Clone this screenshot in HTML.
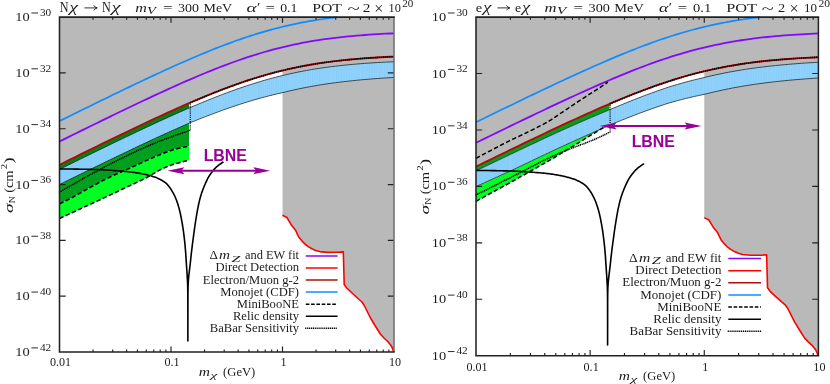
<!DOCTYPE html>
<html><head><meta charset="utf-8"><title>plot</title>
<style>
html,body{margin:0;padding:0;background:#fff;}
svg{display:block;}
text{font-family:"Liberation Serif",serif;fill:#1c1c1c;}
.tk{font-size:12.5px;}
.xt{font-size:13px;}
.xl{font-size:13px;}
.yl{font-size:12.5px;}
.tt{font-size:12.8px;}
.lg{font-size:13px;}
.lbne{font-family:"Liberation Sans",sans-serif;font-weight:bold;font-size:15.9px;fill:#990099;}
</style></head><body>
<svg width="830" height="384" viewBox="0 0 830 384">
<rect width="830" height="384" fill="#fff"/>
<path d="M59.50,17.10 L59.50,164.80 L63.68,162.73 L67.86,160.66 L72.04,158.60 L76.22,156.53 L80.41,154.47 L84.59,152.41 L88.77,150.36 L92.95,148.31 L97.13,146.26 L101.31,144.22 L105.49,142.18 L109.67,140.14 L113.86,138.11 L118.04,136.09 L122.22,134.07 L126.40,132.06 L130.58,130.06 L134.76,128.06 L138.94,126.07 L143.12,124.09 L147.31,122.12 L151.49,120.16 L155.67,118.21 L159.85,116.28 L164.03,114.36 L168.21,112.45 L172.39,110.55 L176.57,108.67 L180.76,106.81 L184.94,104.97 L189.12,103.15 L193.30,101.35 L197.48,99.57 L201.66,97.81 L205.84,96.08 L210.03,94.38 L214.21,92.70 L218.39,91.06 L222.57,89.44 L226.75,87.86 L230.93,86.31 L235.11,84.80 L239.29,83.32 L243.47,81.89 L247.66,80.49 L251.84,79.13 L256.02,77.82 L260.20,76.54 L264.38,75.31 L268.56,74.13 L272.74,72.99 L276.92,71.89 L281.11,70.84 L285.29,69.83 L289.47,68.87 L293.65,67.96 L297.83,67.09 L302.01,66.26 L306.19,65.47 L310.38,64.73 L314.56,64.03 L318.74,63.36 L322.92,62.74 L327.10,62.15 L331.28,61.60 L335.46,61.08 L339.64,60.60 L343.82,60.15 L348.01,59.72 L352.19,59.33 L356.37,58.96 L360.55,58.62 L364.73,58.30 L368.91,58.01 L373.09,57.73 L377.28,57.48 L381.46,57.24 L385.64,57.02 L389.82,56.82 L394.00,56.63 L394.00,17.10Z" fill="#b9b9b9"/>
<path d="M282.50,17.10 L282.50,215.00 L282.40,215.20 L286.90,217.50 L291.60,225.30 L295.50,230.20 L298.70,237.00 L301.60,240.60 L304.90,244.00 L308.20,246.60 L311.90,248.75 L315.70,250.40 L319.75,251.60 L327.60,252.40 L338.00,252.30 L343.30,251.90 L343.60,262.00 L344.20,284.50 L346.75,288.00 L352.00,293.00 L358.00,298.50 L361.75,301.75 L364.00,305.00 L367.00,311.00 L370.50,318.00 L375.00,325.50 L380.50,334.25 L384.00,338.00 L388.00,341.75 L391.00,345.50 L392.60,348.50 L393.40,351.60 L394.00,352.00 L394.00,17.10Z" fill="#b9b9b9"/>
<path d="M59.50,164.80 L62.74,163.20 L65.97,161.60 L69.21,159.99 L72.45,158.40 L75.69,156.80 L78.92,155.20 L82.16,153.61 L85.40,152.01 L88.64,150.42 L91.87,148.84 L95.11,147.25 L98.35,145.66 L101.59,144.08 L104.83,142.50 L108.06,140.93 L111.30,139.35 L114.54,137.78 L117.78,136.22 L121.01,134.65 L124.25,133.09 L127.49,131.54 L130.72,129.99 L133.96,128.44 L137.20,126.90 L140.44,125.36 L143.68,123.83 L146.91,122.31 L150.15,120.79 L153.39,119.28 L156.62,117.77 L159.86,116.27 L163.10,114.78 L166.34,113.30 L169.57,111.83 L172.81,110.36 L176.05,108.91 L179.29,107.47 L182.53,106.03 L185.76,104.61 L189.00,103.20 L189.00,146.20 L188.57,146.28 L188.03,146.38 L187.40,146.50 L186.70,146.63 L185.93,146.77 L185.12,146.93 L184.27,147.09 L183.40,147.26 L182.52,147.44 L181.66,147.62 L180.81,147.81 L180.00,148.00 L179.23,148.19 L178.48,148.37 L177.74,148.54 L177.01,148.72 L176.27,148.91 L175.51,149.11 L174.73,149.32 L173.91,149.56 L173.05,149.82 L172.14,150.11 L171.16,150.43 L170.10,150.80 L168.98,151.20 L167.81,151.63 L166.58,152.09 L165.31,152.57 L164.00,153.07 L162.64,153.61 L161.25,154.16 L159.81,154.74 L158.33,155.35 L156.82,155.98 L155.28,156.63 L153.70,157.30 L152.07,158.01 L150.38,158.75 L148.63,159.54 L146.84,160.35 L145.00,161.19 L143.14,162.04 L141.26,162.91 L139.37,163.78 L137.48,164.65 L135.60,165.52 L133.74,166.37 L131.90,167.20 L130.07,168.02 L128.23,168.83 L126.39,169.64 L124.54,170.45 L122.69,171.25 L120.84,172.06 L119.00,172.87 L117.16,173.69 L115.34,174.50 L113.54,175.33 L111.76,176.16 L110.00,177.00 L108.26,177.85 L106.54,178.71 L104.84,179.58 L103.14,180.45 L101.47,181.33 L99.80,182.21 L98.14,183.09 L96.50,183.97 L94.86,184.86 L93.24,185.74 L91.62,186.62 L90.00,187.50 L88.37,188.39 L86.73,189.30 L85.07,190.24 L83.41,191.17 L81.77,192.11 L80.14,193.04 L78.54,193.96 L76.97,194.85 L75.46,195.71 L74.00,196.52 L72.61,197.29 L71.30,198.00 L70.04,198.67 L68.80,199.31 L67.59,199.92 L66.42,200.50 L65.30,201.04 L64.23,201.56 L63.23,202.03 L62.30,202.47 L61.46,202.87 L60.70,203.22 L60.05,203.53 L59.50,203.80Z" fill="#00a01e"/>
<path d="M59.50,203.80 L60.05,203.53 L60.70,203.22 L61.46,202.87 L62.30,202.47 L63.23,202.03 L64.23,201.56 L65.30,201.04 L66.42,200.50 L67.59,199.92 L68.80,199.31 L70.04,198.67 L71.30,198.00 L72.61,197.29 L74.00,196.52 L75.46,195.71 L76.97,194.85 L78.54,193.96 L80.14,193.04 L81.77,192.11 L83.41,191.17 L85.07,190.24 L86.73,189.30 L88.37,188.39 L90.00,187.50 L91.62,186.62 L93.24,185.74 L94.86,184.86 L96.50,183.97 L98.14,183.09 L99.80,182.21 L101.47,181.33 L103.14,180.45 L104.84,179.58 L106.54,178.71 L108.26,177.85 L110.00,177.00 L111.76,176.16 L113.54,175.33 L115.34,174.50 L117.16,173.69 L119.00,172.87 L120.84,172.06 L122.69,171.25 L124.54,170.45 L126.39,169.64 L128.23,168.83 L130.07,168.02 L131.90,167.20 L133.74,166.37 L135.60,165.52 L137.48,164.65 L139.37,163.78 L141.26,162.91 L143.14,162.04 L145.00,161.19 L146.84,160.35 L148.63,159.54 L150.38,158.75 L152.07,158.01 L153.70,157.30 L155.28,156.63 L156.82,155.98 L158.33,155.35 L159.81,154.74 L161.25,154.16 L162.64,153.61 L164.00,153.07 L165.31,152.57 L166.58,152.09 L167.81,151.63 L168.98,151.20 L170.10,150.80 L171.16,150.43 L172.14,150.11 L173.05,149.82 L173.91,149.56 L174.73,149.32 L175.51,149.11 L176.27,148.91 L177.01,148.72 L177.74,148.54 L178.48,148.37 L179.23,148.19 L180.00,148.00 L180.81,147.81 L181.66,147.62 L182.52,147.44 L183.40,147.26 L184.27,147.09 L185.12,146.93 L185.93,146.77 L186.70,146.63 L187.40,146.50 L188.03,146.38 L188.57,146.28 L189.00,146.20 L189.00,160.20 L188.63,160.29 L188.18,160.40 L187.65,160.53 L187.07,160.67 L186.43,160.83 L185.74,160.99 L185.01,161.17 L184.26,161.36 L183.48,161.56 L182.69,161.77 L181.89,161.98 L181.10,162.20 L180.29,162.42 L179.44,162.66 L178.57,162.90 L177.66,163.14 L176.73,163.40 L175.79,163.67 L174.83,163.95 L173.87,164.23 L172.92,164.53 L171.96,164.84 L171.02,165.16 L170.10,165.50 L169.20,165.84 L168.30,166.19 L167.42,166.55 L166.54,166.92 L165.66,167.30 L164.78,167.69 L163.89,168.09 L162.99,168.51 L162.08,168.95 L161.14,169.41 L160.19,169.90 L159.20,170.40 L158.19,170.93 L157.18,171.50 L156.15,172.09 L155.11,172.70 L154.05,173.33 L152.97,173.98 L151.88,174.63 L150.77,175.29 L149.64,175.95 L148.48,176.61 L147.30,177.26 L146.10,177.90 L144.90,178.52 L143.71,179.12 L142.52,179.70 L141.33,180.28 L140.11,180.86 L138.86,181.45 L137.57,182.06 L136.22,182.69 L134.80,183.35 L133.30,184.05 L131.70,184.80 L130.00,185.60 L128.23,186.44 L126.44,187.29 L124.61,188.16 L122.72,189.05 L120.76,189.98 L118.72,190.94 L116.58,191.95 L114.33,193.01 L111.95,194.13 L109.42,195.32 L106.75,196.57 L103.90,197.90 L100.70,199.39 L97.05,201.09 L93.05,202.95 L88.81,204.91 L84.45,206.94 L80.07,208.97 L75.78,210.96 L71.69,212.85 L67.91,214.60 L64.54,216.16 L61.70,217.48 L59.50,218.50Z" fill="#00ff22"/>
<path d="M59.50,164.80 L62.74,163.20 L65.97,161.60 L69.21,159.99 L72.45,158.40 L75.69,156.80 L78.92,155.20 L82.16,153.61 L85.40,152.01 L88.64,150.42 L91.87,148.84 L95.11,147.25 L98.35,145.66 L101.59,144.08 L104.83,142.50 L108.06,140.93 L111.30,139.35 L114.54,137.78 L117.78,136.22 L121.01,134.65 L124.25,133.09 L127.49,131.54 L130.72,129.99 L133.96,128.44 L137.20,126.90 L140.44,125.36 L143.68,123.83 L146.91,122.31 L150.15,120.79 L153.39,119.28 L156.62,117.77 L159.86,116.27 L163.10,114.78 L166.34,113.30 L169.57,111.83 L172.81,110.36 L176.05,108.91 L179.29,107.47 L182.53,106.03 L185.76,104.61 L189.00,103.20 L189.00,108.08 L185.76,109.49 L182.53,110.90 L179.29,112.33 L176.05,113.77 L172.81,115.21 L169.57,116.67 L166.34,118.14 L163.10,119.61 L159.86,121.10 L156.62,122.59 L153.39,124.09 L150.15,125.59 L146.91,127.10 L143.68,128.62 L140.44,130.14 L137.20,131.67 L133.96,133.21 L130.72,134.75 L127.49,136.29 L124.25,137.84 L121.01,139.39 L117.78,140.95 L114.54,142.51 L111.30,144.07 L108.06,145.64 L104.83,147.21 L101.59,148.78 L98.35,150.35 L95.11,151.93 L91.87,153.51 L88.64,155.09 L85.40,156.67 L82.16,158.26 L78.92,159.85 L75.69,161.43 L72.45,163.02 L69.21,164.62 L65.97,166.21 L62.74,167.80 L59.50,169.40Z" fill="#008214"/>
<path d="M59.50,169.40 L63.68,167.34 L67.86,165.28 L72.04,163.22 L76.22,161.17 L80.41,159.12 L84.59,157.07 L88.77,155.03 L92.95,152.98 L97.13,150.95 L101.31,148.91 L105.49,146.88 L109.67,144.86 L113.86,142.84 L118.04,140.82 L122.22,138.81 L126.40,136.81 L130.58,134.82 L134.76,132.83 L138.94,130.85 L143.12,128.88 L147.31,126.92 L151.49,124.97 L155.67,123.03 L159.85,121.10 L164.03,119.19 L168.21,117.29 L172.39,115.40 L176.57,113.53 L180.76,111.68 L184.94,109.85 L189.12,108.03 L193.30,106.24 L197.48,104.47 L201.66,102.72 L205.84,101.00 L210.03,99.30 L214.21,97.64 L218.39,96.00 L222.57,94.39 L226.75,92.81 L230.93,91.27 L235.11,89.77 L239.29,88.30 L243.47,86.87 L247.66,85.48 L251.84,84.13 L256.02,82.82 L260.20,81.55 L264.38,80.32 L268.56,79.14 L272.74,78.01 L276.92,76.92 L281.11,75.87 L285.29,74.87 L289.47,73.92 L293.65,73.00 L297.83,72.14 L302.01,71.31 L306.19,70.53 L310.38,69.79 L314.56,69.09 L318.74,68.43 L322.92,67.81 L327.10,67.23 L331.28,66.68 L335.46,66.16 L339.64,65.68 L343.82,65.23 L348.01,64.81 L352.19,64.41 L356.37,64.05 L360.55,63.71 L364.73,63.39 L368.91,63.10 L373.09,62.82 L377.28,62.57 L381.46,62.34 L385.64,62.12 L389.82,61.92 L394.00,61.73 L394.00,77.44 L389.82,77.68 L385.64,77.95 L381.46,78.22 L377.28,78.52 L373.09,78.83 L368.91,79.17 L364.73,79.52 L360.55,79.90 L356.37,80.30 L352.19,80.73 L348.01,81.18 L343.82,81.66 L339.64,82.17 L335.46,82.70 L331.28,83.26 L327.10,83.86 L322.92,84.49 L318.74,85.16 L314.56,85.87 L310.38,86.61 L306.19,87.40 L302.01,88.23 L297.83,89.10 L293.65,90.02 L289.47,90.97 L285.29,91.98 L281.11,92.96 L276.92,93.92 L272.74,94.93 L268.56,95.97 L264.38,97.07 L260.20,98.20 L256.02,99.38 L251.84,100.60 L247.66,101.86 L243.47,103.17 L239.29,104.51 L235.11,105.89 L230.93,107.31 L226.75,108.76 L222.57,110.24 L218.39,111.76 L214.21,113.31 L210.03,114.88 L205.84,116.49 L201.66,118.12 L197.48,119.78 L193.30,121.46 L189.12,123.18 L184.94,124.99 L180.76,126.83 L176.57,128.68 L172.39,130.55 L168.21,132.43 L164.03,134.33 L159.85,136.24 L155.67,138.17 L151.49,140.11 L147.31,142.06 L143.12,144.01 L138.94,145.98 L134.76,147.96 L130.58,149.95 L126.40,151.94 L122.22,153.94 L118.04,155.95 L113.86,157.96 L109.67,159.98 L105.49,162.00 L101.31,164.03 L97.13,166.06 L92.95,168.10 L88.77,170.14 L84.59,172.18 L80.41,174.23 L76.22,176.28 L72.04,178.33 L67.86,180.38 L63.68,182.44 L59.50,184.50Z" fill="#87cefa"/>
<clipPath id="c1"><path d="M59.50,169.40 L63.68,167.34 L67.86,165.28 L72.04,163.22 L76.22,161.17 L80.41,159.12 L84.59,157.07 L88.77,155.03 L92.95,152.98 L97.13,150.95 L101.31,148.91 L105.49,146.88 L109.67,144.86 L113.86,142.84 L118.04,140.82 L122.22,138.81 L126.40,136.81 L130.58,134.82 L134.76,132.83 L138.94,130.85 L143.12,128.88 L147.31,126.92 L151.49,124.97 L155.67,123.03 L159.85,121.10 L164.03,119.19 L168.21,117.29 L172.39,115.40 L176.57,113.53 L180.76,111.68 L184.94,109.85 L189.12,108.03 L193.30,106.24 L197.48,104.47 L201.66,102.72 L205.84,101.00 L210.03,99.30 L214.21,97.64 L218.39,96.00 L222.57,94.39 L226.75,92.81 L230.93,91.27 L235.11,89.77 L239.29,88.30 L243.47,86.87 L247.66,85.48 L251.84,84.13 L256.02,82.82 L260.20,81.55 L264.38,80.32 L268.56,79.14 L272.74,78.01 L276.92,76.92 L281.11,75.87 L285.29,74.87 L289.47,73.92 L293.65,73.00 L297.83,72.14 L302.01,71.31 L306.19,70.53 L310.38,69.79 L314.56,69.09 L318.74,68.43 L322.92,67.81 L327.10,67.23 L331.28,66.68 L335.46,66.16 L339.64,65.68 L343.82,65.23 L348.01,64.81 L352.19,64.41 L356.37,64.05 L360.55,63.71 L364.73,63.39 L368.91,63.10 L373.09,62.82 L377.28,62.57 L381.46,62.34 L385.64,62.12 L389.82,61.92 L394.00,61.73 L394.00,77.44 L389.82,77.68 L385.64,77.95 L381.46,78.22 L377.28,78.52 L373.09,78.83 L368.91,79.17 L364.73,79.52 L360.55,79.90 L356.37,80.30 L352.19,80.73 L348.01,81.18 L343.82,81.66 L339.64,82.17 L335.46,82.70 L331.28,83.26 L327.10,83.86 L322.92,84.49 L318.74,85.16 L314.56,85.87 L310.38,86.61 L306.19,87.40 L302.01,88.23 L297.83,89.10 L293.65,90.02 L289.47,90.97 L285.29,91.98 L281.11,92.96 L276.92,93.92 L272.74,94.93 L268.56,95.97 L264.38,97.07 L260.20,98.20 L256.02,99.38 L251.84,100.60 L247.66,101.86 L243.47,103.17 L239.29,104.51 L235.11,105.89 L230.93,107.31 L226.75,108.76 L222.57,110.24 L218.39,111.76 L214.21,113.31 L210.03,114.88 L205.84,116.49 L201.66,118.12 L197.48,119.78 L193.30,121.46 L189.12,123.18 L184.94,124.99 L180.76,126.83 L176.57,128.68 L172.39,130.55 L168.21,132.43 L164.03,134.33 L159.85,136.24 L155.67,138.17 L151.49,140.11 L147.31,142.06 L143.12,144.01 L138.94,145.98 L134.76,147.96 L130.58,149.95 L126.40,151.94 L122.22,153.94 L118.04,155.95 L113.86,157.96 L109.67,159.98 L105.49,162.00 L101.31,164.03 L97.13,166.06 L92.95,168.10 L88.77,170.14 L84.59,172.18 L80.41,174.23 L76.22,176.28 L72.04,178.33 L67.86,180.38 L63.68,182.44 L59.50,184.50Z"/></clipPath>
<path d="M93.06,17.10V352.00M112.70,17.10V352.00M126.63,17.10V352.00M137.44,17.10V352.00M146.26,17.10V352.00M153.73,17.10V352.00M160.19,17.10V352.00M165.90,17.10V352.00M171.00,17.10V352.00M175.62,17.10V352.00M179.83,17.10V352.00M183.70,17.10V352.00M187.29,17.10V352.00M190.63,17.10V352.00M193.76,17.10V352.00M196.70,17.10V352.00M199.46,17.10V352.00M202.08,17.10V352.00M204.56,17.10V352.00M206.93,17.10V352.00M209.18,17.10V352.00M211.33,17.10V352.00M213.39,17.10V352.00M215.37,17.10V352.00M217.27,17.10V352.00M219.10,17.10V352.00M220.86,17.10V352.00M222.56,17.10V352.00M224.20,17.10V352.00M227.32,17.10V352.00M230.26,17.10V352.00M233.03,17.10V352.00M235.65,17.10V352.00M238.13,17.10V352.00M240.49,17.10V352.00M242.74,17.10V352.00M244.90,17.10V352.00M246.96,17.10V352.00M248.94,17.10V352.00M250.83,17.10V352.00M252.66,17.10V352.00M254.42,17.10V352.00M256.12,17.10V352.00M257.76,17.10V352.00M260.13,17.10V352.00M262.38,17.10V352.00M264.53,17.10V352.00M266.59,17.10V352.00M268.57,17.10V352.00M270.47,17.10V352.00M272.30,17.10V352.00M274.06,17.10V352.00M275.76,17.10V352.00M277.40,17.10V352.00M279.50,17.10V352.00M281.52,17.10V352.00M283.46,17.10V352.00M285.32,17.10V352.00M287.12,17.10V352.00M288.84,17.10V352.00M290.51,17.10V352.00M292.13,17.10V352.00M294.07,17.10V352.00M295.94,17.10V352.00M297.74,17.10V352.00M299.48,17.10V352.00M301.16,17.10V352.00M302.78,17.10V352.00M304.65,17.10V352.00M306.46,17.10V352.00M308.20,17.10V352.00M309.87,17.10V352.00M311.50,17.10V352.00M313.33,17.10V352.00M315.09,17.10V352.00M316.79,17.10V352.00M318.43,17.10V352.00M320.24,17.10V352.00M321.98,17.10V352.00M323.67,17.10V352.00M325.30,17.10V352.00M327.06,17.10V352.00M328.77,17.10V352.00M330.42,17.10V352.00M332.18,17.10V352.00M333.89,17.10V352.00M335.54,17.10V352.00M337.29,17.10V352.00M338.98,17.10V352.00M340.61,17.10V352.00M342.33,17.10V352.00M343.99,17.10V352.00M345.59,17.10V352.00M347.27,17.10V352.00M348.90,17.10V352.00M350.59,17.10V352.00M352.22,17.10V352.00M353.91,17.10V352.00M355.55,17.10V352.00M357.23,17.10V352.00M358.86,17.10V352.00M360.53,17.10V352.00M362.15,17.10V352.00M363.80,17.10V352.00M365.49,17.10V352.00M367.12,17.10V352.00M368.78,17.10V352.00M370.38,17.10V352.00M372.01,17.10V352.00M373.66,17.10V352.00M375.32,17.10V352.00M376.94,17.10V352.00M378.56,17.10V352.00M380.20,17.10V352.00M381.84,17.10V352.00M383.50,17.10V352.00M385.15,17.10V352.00M386.75,17.10V352.00M388.36,17.10V352.00M389.96,17.10V352.00M391.57,17.10V352.00M393.17,17.10V352.00" stroke="#c4e6fd" stroke-width="0.55" opacity="0.35" fill="none" clip-path="url(#c1)"/>
<path d="M59.50,169.40 L63.68,167.34 L67.86,165.28 L72.04,163.22 L76.22,161.17 L80.41,159.12 L84.59,157.07 L88.77,155.03 L92.95,152.98 L97.13,150.95 L101.31,148.91 L105.49,146.88 L109.67,144.86 L113.86,142.84 L118.04,140.82 L122.22,138.81 L126.40,136.81 L130.58,134.82 L134.76,132.83 L138.94,130.85 L143.12,128.88 L147.31,126.92 L151.49,124.97 L155.67,123.03 L159.85,121.10 L164.03,119.19 L168.21,117.29 L172.39,115.40 L176.57,113.53 L180.76,111.68 L184.94,109.85 L189.12,108.03 L193.30,106.24 L197.48,104.47 L201.66,102.72 L205.84,101.00 L210.03,99.30 L214.21,97.64 L218.39,96.00 L222.57,94.39 L226.75,92.81 L230.93,91.27 L235.11,89.77 L239.29,88.30 L243.47,86.87 L247.66,85.48 L251.84,84.13 L256.02,82.82 L260.20,81.55 L264.38,80.32 L268.56,79.14 L272.74,78.01 L276.92,76.92 L281.11,75.87 L285.29,74.87 L289.47,73.92 L293.65,73.00 L297.83,72.14 L302.01,71.31 L306.19,70.53 L310.38,69.79 L314.56,69.09 L318.74,68.43 L322.92,67.81 L327.10,67.23 L331.28,66.68 L335.46,66.16 L339.64,65.68 L343.82,65.23 L348.01,64.81 L352.19,64.41 L356.37,64.05 L360.55,63.71 L364.73,63.39 L368.91,63.10 L373.09,62.82 L377.28,62.57 L381.46,62.34 L385.64,62.12 L389.82,61.92 L394.00,61.73" fill="none" stroke="#111" stroke-width="0.7"  />
<path d="M59.50,184.50 L63.68,182.44 L67.86,180.38 L72.04,178.33 L76.22,176.28 L80.41,174.23 L84.59,172.18 L88.77,170.14 L92.95,168.10 L97.13,166.06 L101.31,164.03 L105.49,162.00 L109.67,159.98 L113.86,157.96 L118.04,155.95 L122.22,153.94 L126.40,151.94 L130.58,149.95 L134.76,147.96 L138.94,145.98 L143.12,144.01 L147.31,142.06 L151.49,140.11 L155.67,138.17 L159.85,136.24 L164.03,134.33 L168.21,132.43 L172.39,130.55 L176.57,128.68 L180.76,126.83 L184.94,124.99 L189.12,123.18 L193.30,121.46 L197.48,119.78 L201.66,118.12 L205.84,116.49 L210.03,114.88 L214.21,113.31 L218.39,111.76 L222.57,110.24 L226.75,108.76 L230.93,107.31 L235.11,105.89 L239.29,104.51 L243.47,103.17 L247.66,101.86 L251.84,100.60 L256.02,99.38 L260.20,98.20 L264.38,97.07 L268.56,95.97 L272.74,94.93 L276.92,93.92 L281.11,92.96 L285.29,91.98 L289.47,90.97 L293.65,90.02 L297.83,89.10 L302.01,88.23 L306.19,87.40 L310.38,86.61 L314.56,85.87 L318.74,85.16 L322.92,84.49 L327.10,83.86 L331.28,83.26 L335.46,82.70 L339.64,82.17 L343.82,81.66 L348.01,81.18 L352.19,80.73 L356.37,80.30 L360.55,79.90 L364.73,79.52 L368.91,79.17 L373.09,78.83 L377.28,78.52 L381.46,78.22 L385.64,77.95 L389.82,77.68 L394.00,77.44" fill="none" stroke="#111" stroke-width="0.7"  />
<path d="M59.50,121.10 L62.97,119.38 L66.44,117.66 L69.92,115.95 L73.39,114.23 L76.86,112.52 L80.33,110.81 L83.81,109.10 L87.28,107.39 L90.75,105.69 L94.22,103.98 L97.70,102.28 L101.17,100.59 L104.64,98.89 L108.11,97.20 L111.59,95.52 L115.06,93.83 L118.53,92.15 L122.00,90.48 L125.47,88.81 L128.95,87.14 L132.42,85.48 L135.89,83.82 L139.36,82.17 L142.84,80.53 L146.31,78.89 L149.78,77.26 L153.25,75.64 L156.73,74.02 L160.20,72.42 L163.67,70.82 L167.14,69.23 L170.61,67.66 L174.09,66.09 L177.56,64.53 L181.03,62.99 L184.50,61.46 L187.98,59.94 L191.45,58.44 L194.92,56.95 L198.39,55.48 L201.87,54.03 L205.34,52.59 L208.81,51.17 L212.28,49.77 L215.76,48.39 L219.23,47.03 L222.70,45.69 L226.17,44.38 L229.64,43.09 L233.12,41.82 L236.59,40.57 L240.06,39.36 L243.53,38.17 L247.01,37.00 L250.48,35.87 L253.95,34.76 L257.42,33.68 L260.90,32.64 L264.37,31.62 L267.84,30.63 L271.31,29.67 L274.78,28.75 L278.26,27.85 L281.73,26.99 L285.20,26.16 L288.67,25.35 L292.15,24.58 L295.62,23.84 L299.09,23.13 L302.56,22.45 L306.04,21.80 L309.51,21.18 L312.98,20.59 L316.45,20.02 L319.93,19.48 L323.40,18.97 L326.87,18.48 L330.34,18.02 L333.81,17.58 L337.29,17.17" fill="none" stroke="#0f8cff" stroke-width="1.7"  />
<path d="M59.50,141.50 L63.68,139.43 L67.86,137.36 L72.04,135.30 L76.22,133.23 L80.41,131.17 L84.59,129.11 L88.77,127.06 L92.95,125.01 L97.13,122.96 L101.31,120.92 L105.49,118.88 L109.67,116.84 L113.86,114.81 L118.04,112.79 L122.22,110.77 L126.40,108.76 L130.58,106.76 L134.76,104.76 L138.94,102.77 L143.12,100.79 L147.31,98.82 L151.49,96.86 L155.67,94.91 L159.85,92.98 L164.03,91.06 L168.21,89.15 L172.39,87.25 L176.57,85.37 L180.76,83.51 L184.94,81.67 L189.12,79.85 L193.30,78.05 L197.48,76.27 L201.66,74.51 L205.84,72.78 L210.03,71.08 L214.21,69.40 L218.39,67.76 L222.57,66.14 L226.75,64.56 L230.93,63.01 L235.11,61.50 L239.29,60.02 L243.47,58.59 L247.66,57.19 L251.84,55.83 L256.02,54.52 L260.20,53.24 L264.38,52.01 L268.56,50.83 L272.74,49.69 L276.92,48.59 L281.11,47.54 L285.29,46.53 L289.47,45.57 L293.65,44.66 L297.83,43.79 L302.01,42.96 L306.19,42.17 L310.38,41.43 L314.56,40.73 L318.74,40.06 L322.92,39.44 L327.10,38.85 L331.28,38.30 L335.46,37.78 L339.64,37.30 L343.82,36.85 L348.01,36.42 L352.19,36.03 L356.37,35.66 L360.55,35.32 L364.73,35.00 L368.91,34.71 L373.09,34.43 L377.28,34.18 L381.46,33.94 L385.64,33.72 L389.82,33.52 L394.00,33.33" fill="none" stroke="#8408fa" stroke-width="1.8"  />
<path d="M59.50,164.80 L63.68,162.73 L67.86,160.66 L72.04,158.60 L76.22,156.53 L80.41,154.47 L84.59,152.41 L88.77,150.36 L92.95,148.31 L97.13,146.26 L101.31,144.22 L105.49,142.18 L109.67,140.14 L113.86,138.11 L118.04,136.09 L122.22,134.07 L126.40,132.06 L130.58,130.06 L134.76,128.06 L138.94,126.07 L143.12,124.09 L147.31,122.12 L151.49,120.16 L155.67,118.21 L159.85,116.28 L164.03,114.36 L168.21,112.45 L172.39,110.55 L176.57,108.67 L180.76,106.81 L184.94,104.97 L189.12,103.15 L193.30,101.35 L197.48,99.57 L201.66,97.81 L205.84,96.08 L210.03,94.38 L214.21,92.70 L218.39,91.06 L222.57,89.44 L226.75,87.86 L230.93,86.31 L235.11,84.80 L239.29,83.32 L243.47,81.89 L247.66,80.49 L251.84,79.13 L256.02,77.82 L260.20,76.54 L264.38,75.31 L268.56,74.13 L272.74,72.99 L276.92,71.89 L281.11,70.84 L285.29,69.83 L289.47,68.87 L293.65,67.96 L297.83,67.09 L302.01,66.26 L306.19,65.47 L310.38,64.73 L314.56,64.03 L318.74,63.36 L322.92,62.74 L327.10,62.15 L331.28,61.60 L335.46,61.08 L339.64,60.60 L343.82,60.15 L348.01,59.72 L352.19,59.33 L356.37,58.96 L360.55,58.62 L364.73,58.30 L368.91,58.01 L373.09,57.73 L377.28,57.48 L381.46,57.24 L385.64,57.02 L389.82,56.82 L394.00,56.63" fill="none" stroke="#b00c0c" stroke-width="1.9"  />
<path d="M59.50,203.80 L60.05,203.53 L60.70,203.22 L61.46,202.87 L62.30,202.47 L63.23,202.03 L64.23,201.56 L65.30,201.04 L66.42,200.50 L67.59,199.92 L68.80,199.31 L70.04,198.67 L71.30,198.00 L72.61,197.29 L74.00,196.52 L75.46,195.71 L76.97,194.85 L78.54,193.96 L80.14,193.04 L81.77,192.11 L83.41,191.17 L85.07,190.24 L86.73,189.30 L88.37,188.39 L90.00,187.50 L91.62,186.62 L93.24,185.74 L94.86,184.86 L96.50,183.97 L98.14,183.09 L99.80,182.21 L101.47,181.33 L103.14,180.45 L104.84,179.58 L106.54,178.71 L108.26,177.85 L110.00,177.00 L111.76,176.16 L113.54,175.33 L115.34,174.50 L117.16,173.69 L119.00,172.87 L120.84,172.06 L122.69,171.25 L124.54,170.45 L126.39,169.64 L128.23,168.83 L130.07,168.02 L131.90,167.20 L133.74,166.37 L135.60,165.52 L137.48,164.65 L139.37,163.78 L141.26,162.91 L143.14,162.04 L145.00,161.19 L146.84,160.35 L148.63,159.54 L150.38,158.75 L152.07,158.01 L153.70,157.30 L155.28,156.63 L156.82,155.98 L158.33,155.35 L159.81,154.74 L161.25,154.16 L162.64,153.61 L164.00,153.07 L165.31,152.57 L166.58,152.09 L167.81,151.63 L168.98,151.20 L170.10,150.80 L171.16,150.43 L172.14,150.11 L173.05,149.82 L173.91,149.56 L174.73,149.32 L175.51,149.11 L176.27,148.91 L177.01,148.72 L177.74,148.54 L178.48,148.37 L179.23,148.19 L180.00,148.00 L180.81,147.81 L181.66,147.62 L182.52,147.44 L183.40,147.26 L184.27,147.09 L185.12,146.93 L185.93,146.77 L186.70,146.63 L187.40,146.50 L188.03,146.38 L188.57,146.28 L189.00,146.20" fill="none" stroke="#000" stroke-width="1.5" stroke-dasharray="4.4,2.4" />
<path d="M59.50,218.50 L61.70,217.48 L64.54,216.16 L67.91,214.60 L71.69,212.85 L75.78,210.96 L80.07,208.97 L84.45,206.94 L88.81,204.91 L93.05,202.95 L97.05,201.09 L100.70,199.39 L103.90,197.90 L106.75,196.57 L109.42,195.32 L111.95,194.13 L114.33,193.01 L116.58,191.95 L118.72,190.94 L120.76,189.98 L122.72,189.05 L124.61,188.16 L126.44,187.29 L128.23,186.44 L130.00,185.60 L131.70,184.80 L133.30,184.05 L134.80,183.35 L136.22,182.69 L137.57,182.06 L138.86,181.45 L140.11,180.86 L141.33,180.28 L142.52,179.70 L143.71,179.12 L144.90,178.52 L146.10,177.90 L147.30,177.26 L148.48,176.61 L149.64,175.95 L150.77,175.29 L151.88,174.63 L152.97,173.98 L154.05,173.33 L155.11,172.70 L156.15,172.09 L157.18,171.50 L158.19,170.93 L159.20,170.40 L160.19,169.90 L161.14,169.41 L162.08,168.95 L162.99,168.51 L163.89,168.09 L164.78,167.69 L165.66,167.30 L166.54,166.92 L167.42,166.55 L168.30,166.19 L169.20,165.84 L170.10,165.50 L171.02,165.16 L171.96,164.84 L172.92,164.53 L173.87,164.23 L174.83,163.95 L175.79,163.67 L176.73,163.40 L177.66,163.14 L178.57,162.90 L179.44,162.66 L180.29,162.42 L181.10,162.20 L181.89,161.98 L182.69,161.77 L183.48,161.56 L184.26,161.36 L185.01,161.17 L185.74,160.99 L186.43,160.83 L187.07,160.67 L187.65,160.53 L188.18,160.40 L188.63,160.29 L189.00,160.20" fill="none" stroke="#000" stroke-width="1.5" stroke-dasharray="4.4,2.4" />
<path d="M59.5,191.3v1.60M61.1,190.4v1.60M62.8,189.4v1.60M64.4,188.5v1.60M66.1,187.5v1.60M67.7,186.6v1.60M69.4,185.6v1.60M71.0,184.7v1.60M72.7,183.7v1.60M74.3,182.8v1.60M76.0,181.8v1.60M77.6,180.9v1.60M79.3,179.9v1.60M80.9,179.0v1.60M82.6,178.1v1.60M84.2,177.1v1.60M85.9,176.2v1.60M87.6,175.3v1.60M89.2,174.4v1.60M90.9,173.5v1.60M92.6,172.6v1.60M94.2,171.7v1.60M95.9,170.8v1.60M97.6,169.9v1.60M99.3,169.0v1.60M100.9,168.1v1.60M102.6,167.2v1.60M104.3,166.3v1.60M106.0,165.4v1.60M107.7,164.5v1.60M109.3,163.7v1.60M111.0,162.8v1.60M112.7,161.9v1.60M114.4,161.1v1.60M116.1,160.2v1.60M117.8,159.3v1.60M119.5,158.5v1.60M121.2,157.7v1.60M122.9,156.8v1.60M124.6,156.0v1.60M126.3,155.2v1.60M128.1,154.3v1.60M129.8,153.5v1.60M131.5,152.7v1.60M133.2,151.9v1.60M134.9,151.1v1.60M136.6,150.3v1.60M138.4,149.5v1.60M140.1,148.7v1.60M141.8,147.9v1.60M143.6,147.1v1.60M145.3,146.4v1.60M147.0,145.6v1.60M148.8,144.8v1.60M150.5,144.1v1.60M152.3,143.3v1.60M154.0,142.6v1.60M155.8,141.9v1.60M157.5,141.2v1.60M159.3,140.5v1.60M161.1,139.8v1.60M162.8,139.1v1.60M164.6,138.4v1.60M166.4,137.8v1.60M168.2,137.1v1.60M170.0,136.5v1.60M171.8,135.8v1.60M173.5,135.1v1.60M175.3,134.5v1.60M177.1,133.9v1.60M178.9,133.3v1.60M180.7,132.7v1.60M182.5,132.1v1.60M184.3,131.5v1.60M186.1,130.9v1.60M187.9,130.3v1.60M189.7,129.7v1.60M190.3,128.5v1.00M190.3,126.6v1.00M190.3,124.7v1.00M190.3,122.8v1.00M190.3,120.9v1.00M190.3,119.0v1.00M190.3,117.1v1.00M190.3,115.2v1.00M190.3,113.3v1.00M190.3,111.4v1.00M190.3,109.5v1.00M190.3,107.6v1.00M190.3,105.7v1.00M190.3,103.8v1.00M190.5,101.7v1.60M192.3,101.0v1.60M194.0,100.2v1.60M195.8,99.5v1.60M197.5,98.8v1.60M199.3,98.0v1.60M201.0,97.3v1.60M202.8,96.6v1.60M204.5,95.8v1.60M206.3,95.1v1.60M208.0,94.4v1.60M209.8,93.7v1.60M211.6,93.0v1.60M213.3,92.3v1.60M215.1,91.6v1.60M216.9,90.9v1.60M218.6,90.2v1.60M220.4,89.5v1.60M222.2,88.8v1.60M224.0,88.1v1.60M225.7,87.4v1.60M227.5,86.8v1.60M229.3,86.1v1.60M231.1,85.5v1.60M232.9,84.8v1.60M234.7,84.2v1.60M236.4,83.5v1.60M238.2,82.9v1.60M240.0,82.3v1.60M241.8,81.7v1.60M243.6,81.0v1.60M245.4,80.4v1.60M247.2,79.8v1.60M249.0,79.2v1.60M250.8,78.7v1.60M252.6,78.1v1.60M254.5,77.5v1.60M256.3,76.9v1.60M258.1,76.4v1.60M259.9,75.8v1.60M261.7,75.3v1.60M263.6,74.8v1.60M265.4,74.2v1.60M267.2,73.7v1.60M269.0,73.2v1.60M270.9,72.7v1.60M272.7,72.2v1.60M274.5,71.7v1.60M276.4,71.2v1.60M278.2,70.8v1.60M280.1,70.3v1.60M281.9,69.8v1.60M283.8,69.4v1.60M285.6,69.0v1.60M287.5,68.5v1.60M289.3,68.1v1.60M291.2,67.7v1.60M293.0,67.3v1.60M294.9,66.9v1.60M296.7,66.5v1.60M298.6,66.1v1.60M300.5,65.8v1.60M302.3,65.4v1.60M304.2,65.0v1.60M306.1,64.7v1.60M307.9,64.4v1.60M309.8,64.0v1.60M311.7,63.7v1.60M313.5,63.4v1.60M315.4,63.1v1.60M317.3,62.8v1.60M319.2,62.5v1.60M321.1,62.2v1.60M322.9,61.9v1.60M324.8,61.7v1.60M326.7,61.4v1.60M328.6,61.2v1.60M330.5,60.9v1.60M332.3,60.7v1.60M334.2,60.4v1.60M336.1,60.2v1.60M338.0,60.0v1.60M339.9,59.8v1.60M341.8,59.6v1.60M343.7,59.4v1.60M345.6,59.2v1.60M347.5,59.0v1.60M349.3,58.8v1.60M351.2,58.6v1.60M353.1,58.4v1.60M355.0,58.3v1.60M356.9,58.1v1.60M358.8,58.0v1.60M360.7,57.8v1.60M362.6,57.7v1.60M364.5,57.5v1.60M366.4,57.4v1.60M368.3,57.3v1.60M370.2,57.1v1.60M372.1,57.0v1.60M374.0,56.9v1.60M375.9,56.8v1.60M377.8,56.6v1.60M379.7,56.5v1.60M381.6,56.4v1.60M383.5,56.3v1.60M385.4,56.2v1.60M387.2,56.1v1.60M389.1,56.1v1.60M391.0,56.0v1.60M392.9,55.9v1.60" fill="none" stroke="#000" stroke-width="1.20"/>
<path d="M59.50,168.90 L60.49,168.91 L61.74,168.93 L63.20,168.95 L64.83,168.97 L66.61,168.99 L68.50,169.02 L70.46,169.05 L72.44,169.07 L74.43,169.10 L76.38,169.13 L78.24,169.17 L80.00,169.20 L81.67,169.23 L83.30,169.26 L84.92,169.28 L86.52,169.31 L88.12,169.33 L89.72,169.36 L91.34,169.40 L92.98,169.44 L94.66,169.49 L96.38,169.54 L98.16,169.62 L100.00,169.70 L101.94,169.80 L103.99,169.91 L106.13,170.03 L108.33,170.17 L110.57,170.31 L112.81,170.46 L115.04,170.61 L117.22,170.77 L119.34,170.93 L121.35,171.09 L123.25,171.24 L125.00,171.40 L126.62,171.56 L128.14,171.71 L129.57,171.87 L130.93,172.04 L132.21,172.20 L133.44,172.37 L134.61,172.54 L135.74,172.71 L136.84,172.88 L137.91,173.05 L138.96,173.23 L140.00,173.40 L141.01,173.57 L141.98,173.75 L142.90,173.92 L143.78,174.10 L144.62,174.27 L145.44,174.45 L146.23,174.63 L147.00,174.81 L147.76,175.00 L148.51,175.20 L149.25,175.40 L150.00,175.60 L150.74,175.81 L151.46,176.02 L152.16,176.23 L152.85,176.44 L153.53,176.66 L154.19,176.89 L154.84,177.12 L155.48,177.36 L156.12,177.60 L156.75,177.86 L157.37,178.12 L158.00,178.40 L158.63,178.69 L159.26,179.00 L159.89,179.31 L160.52,179.64 L161.14,179.98 L161.75,180.32 L162.35,180.67 L162.93,181.01 L163.48,181.36 L164.02,181.71 L164.52,182.06 L165.00,182.40 L165.44,182.73 L165.85,183.06 L166.22,183.39 L166.57,183.71 L166.90,184.04 L167.22,184.37 L167.52,184.70 L167.81,185.04 L168.11,185.39 L168.40,185.75 L168.69,186.12 L169.00,186.50 L169.31,186.89 L169.61,187.29 L169.91,187.70 L170.20,188.11 L170.49,188.53 L170.78,188.96 L171.07,189.40 L171.35,189.85 L171.64,190.31 L171.92,190.79 L172.21,191.29 L172.50,191.80 L172.79,192.32 L173.08,192.85 L173.38,193.38 L173.67,193.92 L173.96,194.47 L174.25,195.04 L174.54,195.63 L174.83,196.25 L175.12,196.89 L175.42,197.56 L175.71,198.26 L176.00,199.00 L176.29,199.77 L176.59,200.57 L176.89,201.39 L177.19,202.24 L177.48,203.11 L177.78,204.01 L178.08,204.94 L178.37,205.90 L178.66,206.88 L178.95,207.89 L179.23,208.93 L179.50,210.00 L179.77,211.11 L180.04,212.27 L180.31,213.47 L180.57,214.70 L180.84,215.97 L181.09,217.25 L181.35,218.55 L181.59,219.85 L181.83,221.16 L182.06,222.45 L182.29,223.74 L182.50,225.00 L182.70,226.26 L182.90,227.53 L183.09,228.82 L183.27,230.11 L183.45,231.40 L183.62,232.69 L183.78,233.96 L183.94,235.22 L184.09,236.46 L184.23,237.67 L184.37,238.86 L184.50,240.00 L184.62,241.11 L184.74,242.17 L184.85,243.21 L184.94,244.22 L185.04,245.21 L185.12,246.19 L185.21,247.15 L185.29,248.11 L185.37,249.07 L185.44,250.03 L185.52,251.01 L185.60,252.00 L185.68,252.99 L185.75,253.98 L185.82,254.95 L185.89,255.93 L185.95,256.90 L186.01,257.88 L186.07,258.86 L186.14,259.85 L186.20,260.86 L186.26,261.88 L186.33,262.93 L186.40,264.00 L186.47,265.10 L186.55,266.24 L186.63,267.41 L186.71,268.59 L186.79,269.79 L186.87,271.00 L186.95,272.21 L187.03,273.41 L187.10,274.59 L187.17,275.76 L187.24,276.90 L187.30,278.00 L187.35,279.03 L187.41,279.97 L187.45,280.84 L187.50,281.67 L187.54,282.48 L187.58,283.31 L187.61,284.18 L187.64,285.11 L187.67,286.13 L187.70,287.27 L187.73,288.55 L187.75,290.00 L187.77,291.62 L187.79,293.40 L187.80,295.31 L187.81,297.33 L187.82,299.44 L187.83,301.62 L187.83,303.85 L187.84,306.11 L187.84,308.38 L187.84,310.62 L187.85,312.84 L187.85,315.00 L187.85,317.21 L187.86,319.58 L187.86,322.04 L187.86,324.56 L187.86,327.08 L187.86,329.56 L187.86,331.96 L187.85,334.22 L187.85,336.30 L187.85,338.16 L187.85,339.74 L187.85,341.00 L187.85,339.74 L187.85,338.16 L187.86,336.30 L187.86,334.22 L187.86,331.96 L187.87,329.56 L187.87,327.08 L187.88,324.56 L187.88,322.04 L187.89,319.58 L187.89,317.21 L187.90,315.00 L187.90,312.84 L187.91,310.62 L187.91,308.38 L187.91,306.11 L187.91,303.85 L187.92,301.62 L187.92,299.44 L187.93,297.33 L187.94,295.31 L187.95,293.40 L187.97,291.62 L188.00,290.00 L188.03,288.55 L188.06,287.27 L188.09,286.13 L188.13,285.11 L188.16,284.18 L188.21,283.31 L188.25,282.48 L188.31,281.67 L188.37,280.84 L188.44,279.97 L188.51,279.03 L188.60,278.00 L188.70,276.90 L188.81,275.76 L188.94,274.59 L189.07,273.41 L189.21,272.21 L189.36,271.00 L189.50,269.79 L189.65,268.59 L189.80,267.41 L189.94,266.24 L190.07,265.10 L190.20,264.00 L190.32,262.93 L190.43,261.88 L190.54,260.86 L190.65,259.85 L190.75,258.86 L190.86,257.88 L190.96,256.90 L191.06,255.93 L191.17,254.95 L191.28,253.98 L191.39,252.99 L191.50,252.00 L191.61,251.02 L191.73,250.07 L191.84,249.14 L191.95,248.22 L192.06,247.30 L192.18,246.38 L192.29,245.43 L192.42,244.44 L192.55,243.42 L192.69,242.35 L192.84,241.21 L193.00,240.00 L193.17,238.71 L193.35,237.34 L193.54,235.90 L193.74,234.41 L193.95,232.87 L194.16,231.31 L194.37,229.73 L194.59,228.15 L194.82,226.57 L195.04,225.01 L195.27,223.48 L195.50,222.00 L195.73,220.54 L195.97,219.06 L196.20,217.59 L196.44,216.11 L196.69,214.64 L196.94,213.19 L197.19,211.75 L197.44,210.33 L197.70,208.95 L197.97,207.59 L198.23,206.27 L198.50,205.00 L198.77,203.78 L199.03,202.60 L199.29,201.47 L199.56,200.37 L199.82,199.30 L200.09,198.25 L200.37,197.21 L200.67,196.19 L200.97,195.16 L201.30,194.12 L201.64,193.07 L202.00,192.00 L202.39,190.90 L202.81,189.76 L203.26,188.61 L203.72,187.44 L204.20,186.28 L204.69,185.12 L205.18,183.99 L205.67,182.89 L206.15,181.83 L206.62,180.82 L207.07,179.87 L207.50,179.00 L207.91,178.20 L208.30,177.47 L208.68,176.79 L209.06,176.17 L209.42,175.58 L209.78,175.03 L210.14,174.51 L210.50,174.00 L210.86,173.50 L211.23,173.01 L211.61,172.51 L212.00,172.00 L212.39,171.49 L212.79,170.99 L213.18,170.50 L213.57,170.03 L213.97,169.56 L214.38,169.11 L214.79,168.66 L215.20,168.22 L215.63,167.78 L216.07,167.35 L216.53,166.93 L217.00,166.50 L217.51,166.07 L218.07,165.62 L218.67,165.16 L219.30,164.70 L219.93,164.25 L220.56,163.81 L221.18,163.38 L221.76,162.99 L222.30,162.63 L222.78,162.30 L223.18,162.02 L223.50,161.80" fill="none" stroke="#000" stroke-width="1.6"  stroke-linejoin="round"/>
<path d="M282.40,215.20 L286.90,217.50 L291.60,225.30 L295.50,230.20 L298.70,237.00 L301.60,240.60 L304.90,244.00 L308.20,246.60 L311.90,248.75 L315.70,250.40 L319.75,251.60 L327.60,252.40 L338.00,252.30 L343.30,251.90 L343.60,262.00 L344.20,284.50 L346.75,288.00 L352.00,293.00 L358.00,298.50 L361.75,301.75 L364.00,305.00 L367.00,311.00 L370.50,318.00 L375.00,325.50 L380.50,334.25 L384.00,338.00 L388.00,341.75 L391.00,345.50 L392.60,348.50 L393.40,351.60" fill="none" stroke="#ff0000" stroke-width="1.6"  stroke-linejoin="round"/>
<path d="M175.40,170.70H262.20" stroke="#990099" stroke-width="2"/>
<path d="M167.40,170.70l17.00,-3.50l-3,3.50l3,3.50z" fill="#990099"/>
<path d="M270.20,170.70l-17.00,-3.50l3,3.50l-3,3.50z" fill="#990099"/>
<g style="opacity:0.999"><text x="225.30" y="161.10" text-anchor="middle" class="lbne">LBNE</text></g>
<path d="M93.06,352.00v-2.60M93.06,17.10v2.60M112.70,352.00v-2.60M112.70,17.10v2.60M126.63,352.00v-2.60M126.63,17.10v2.60M137.44,352.00v-2.60M137.44,17.10v2.60M146.26,352.00v-2.60M146.26,17.10v2.60M153.73,352.00v-2.60M153.73,17.10v2.60M160.19,352.00v-2.60M160.19,17.10v2.60M165.90,352.00v-2.60M165.90,17.10v2.60M171.00,352.00v-5.60M171.00,17.10v5.60M204.56,352.00v-2.60M204.56,17.10v2.60M224.20,352.00v-2.60M224.20,17.10v2.60M238.13,352.00v-2.60M238.13,17.10v2.60M248.94,352.00v-2.60M248.94,17.10v2.60M257.76,352.00v-2.60M257.76,17.10v2.60M265.23,352.00v-2.60M265.23,17.10v2.60M271.69,352.00v-2.60M271.69,17.10v2.60M277.40,352.00v-2.60M277.40,17.10v2.60M282.50,352.00v-5.60M282.50,17.10v5.60M316.06,352.00v-2.60M316.06,17.10v2.60M335.70,352.00v-2.60M335.70,17.10v2.60M349.63,352.00v-2.60M349.63,17.10v2.60M360.44,352.00v-2.60M360.44,17.10v2.60M369.26,352.00v-2.60M369.26,17.10v2.60M376.73,352.00v-2.60M376.73,17.10v2.60M383.19,352.00v-2.60M383.19,17.10v2.60M388.90,352.00v-2.60M388.90,17.10v2.60M59.50,72.92h6.2M394.00,72.92h-6.2M59.50,128.73h6.2M394.00,128.73h-6.2M59.50,184.55h6.2M394.00,184.55h-6.2M59.50,240.37h6.2M394.00,240.37h-6.2M59.50,296.18h6.2M394.00,296.18h-6.2" stroke="#222" stroke-width="1.15" fill="none"/>
<path d="M394.00,17.10V352.00" fill="none" stroke="#6c6c6c" stroke-width="1.5"/>
<path d="M394.00,17.10H59.50V352.00H394.00" fill="none" stroke="#222" stroke-width="1.55" stroke-linecap="square"/>
<g style="filter:grayscale(1)"><text x="15.20" y="21.20" font-size="13.20" textLength="14.40" lengthAdjust="spacingAndGlyphs" >10</text>
<path d="M31.40,13.00H38.00" stroke="#222" stroke-width="0.95"/>
<text x="39.90" y="15.70" font-size="9.70" textLength="11.30" lengthAdjust="spacingAndGlyphs" >30</text>
<text x="15.20" y="77.02" font-size="13.20" textLength="14.40" lengthAdjust="spacingAndGlyphs" >10</text>
<path d="M31.40,68.82H38.00" stroke="#222" stroke-width="0.95"/>
<text x="39.90" y="71.52" font-size="9.70" textLength="11.30" lengthAdjust="spacingAndGlyphs" >32</text>
<text x="15.20" y="132.83" font-size="13.20" textLength="14.40" lengthAdjust="spacingAndGlyphs" >10</text>
<path d="M31.40,124.63H38.00" stroke="#222" stroke-width="0.95"/>
<text x="39.90" y="127.33" font-size="9.70" textLength="11.30" lengthAdjust="spacingAndGlyphs" >34</text>
<text x="15.20" y="188.65" font-size="13.20" textLength="14.40" lengthAdjust="spacingAndGlyphs" >10</text>
<path d="M31.40,180.45H38.00" stroke="#222" stroke-width="0.95"/>
<text x="39.90" y="183.15" font-size="9.70" textLength="11.30" lengthAdjust="spacingAndGlyphs" >36</text>
<text x="15.20" y="244.47" font-size="13.20" textLength="14.40" lengthAdjust="spacingAndGlyphs" >10</text>
<path d="M31.40,236.27H38.00" stroke="#222" stroke-width="0.95"/>
<text x="39.90" y="238.97" font-size="9.70" textLength="11.30" lengthAdjust="spacingAndGlyphs" >38</text>
<text x="15.20" y="300.28" font-size="13.20" textLength="14.40" lengthAdjust="spacingAndGlyphs" >10</text>
<path d="M31.40,292.08H38.00" stroke="#222" stroke-width="0.95"/>
<text x="39.90" y="294.78" font-size="9.70" textLength="11.30" lengthAdjust="spacingAndGlyphs" >40</text>
<text x="15.20" y="356.10" font-size="13.20" textLength="14.40" lengthAdjust="spacingAndGlyphs" >10</text>
<path d="M31.40,347.90H38.00" stroke="#222" stroke-width="0.95"/>
<text x="39.90" y="350.60" font-size="9.70" textLength="11.30" lengthAdjust="spacingAndGlyphs" >42</text>
<text x="60.50" y="366.40" text-anchor="middle" font-size="12.1">0.01</text>
<text x="172.00" y="366.40" text-anchor="middle" font-size="12.1">0.1</text>
<text x="283.50" y="366.40" text-anchor="middle" font-size="12.1">1</text>
<text x="395.00" y="366.40" text-anchor="middle" font-size="12.1">10</text>
<text x="198.80" y="376.00" font-size="13.00" font-style="italic" textLength="11.20" lengthAdjust="spacingAndGlyphs" >m</text>
<text x="210.60" y="378.40" font-size="8.60" font-style="italic" textLength="6.80" lengthAdjust="spacingAndGlyphs" fill="#333">χ</text>
<text x="223.10" y="376.00" font-size="12.60" textLength="32.20" lengthAdjust="spacingAndGlyphs" >(GeV)</text>
<g transform="translate(12.80,213.00) rotate(-90)">
<text x="0.00" y="0.00" font-size="13.00" font-style="italic" textLength="9.60" lengthAdjust="spacingAndGlyphs" >σ</text>
<text x="9.80" y="2.40" font-size="8.60" textLength="7.20" lengthAdjust="spacingAndGlyphs" >N</text>
<text x="20.20" y="0.00" font-size="12.60" textLength="22.40" lengthAdjust="spacingAndGlyphs" >(cm</text>
<text x="43.80" y="-5.80" font-size="8.80" textLength="5.40" lengthAdjust="spacingAndGlyphs" >2</text>
<text x="49.60" y="0.00" font-size="12.60" textLength="6.20" lengthAdjust="spacingAndGlyphs" >)</text>
</g>
<text x="59.80" y="11.60" font-size="13.60" textLength="8.80" lengthAdjust="spacingAndGlyphs" >N</text>
<text transform="translate(69.30,11.60) scale(1,0.8)" font-size="16.9" font-style="italic" textLength="8.70" lengthAdjust="spacingAndGlyphs" fill="#2a2a2a">χ</text>
<path d="M84.40,7.9H97.20M93.80,5.4Q95.00,7.4 97.20,7.9Q95.00,8.4 93.80,10.4" fill="none" stroke="#111" stroke-width="0.85"/>
<text x="102.10" y="11.60" font-size="13.60" textLength="8.80" lengthAdjust="spacingAndGlyphs" >N</text>
<text transform="translate(111.60,11.60) scale(1,0.8)" font-size="16.9" font-style="italic" textLength="9.00" lengthAdjust="spacingAndGlyphs" fill="#2a2a2a">χ</text>
<text x="135.20" y="11.60" font-size="13.00" font-style="italic" textLength="11.60" lengthAdjust="spacingAndGlyphs" >m</text>
<text x="147.00" y="13.90" font-size="9.30" font-style="italic" textLength="8.80" lengthAdjust="spacingAndGlyphs" >V</text>
<text x="163.00" y="11.60" font-size="13.00" textLength="9.60" lengthAdjust="spacingAndGlyphs" >=</text>
<text x="178.00" y="11.60" font-size="13.00" textLength="20.90" lengthAdjust="spacingAndGlyphs" >300</text>
<text x="203.50" y="11.60" font-size="13.00" textLength="28.70" lengthAdjust="spacingAndGlyphs" >MeV</text>
<text x="246.60" y="11.60" font-size="13.00" font-style="italic" textLength="10.10" lengthAdjust="spacingAndGlyphs" >α</text>
<text x="257.00" y="11.10" font-size="12.00" textLength="3.40" lengthAdjust="spacingAndGlyphs" >′</text>
<text x="265.40" y="11.60" font-size="13.00" textLength="9.40" lengthAdjust="spacingAndGlyphs" >=</text>
<text x="280.20" y="11.60" font-size="13.00" textLength="17.20" lengthAdjust="spacingAndGlyphs" >0.1</text>
<text x="312.20" y="11.60" font-size="13.00" textLength="29.80" lengthAdjust="spacingAndGlyphs" >POT</text>
<text x="347.60" y="14.00" font-size="14.00" textLength="12.20" lengthAdjust="spacingAndGlyphs" >~</text>
<text x="362.80" y="11.60" font-size="13.00" textLength="7.70" lengthAdjust="spacingAndGlyphs" >2</text>
<text x="374.20" y="14.20" font-size="16.00" textLength="9.10" lengthAdjust="spacingAndGlyphs" >×</text>
<text x="388.50" y="11.60" font-size="13.00" textLength="12.30" lengthAdjust="spacingAndGlyphs" >10</text>
<text x="402.30" y="6.50" font-size="9.50" textLength="11.10" lengthAdjust="spacingAndGlyphs" >20</text></g>
<path d="M305.80,255.90H337.60" stroke="#8408fa" stroke-width="1.5"  fill="none"/>
<path d="M305.80,267.97H337.60" stroke="#ff0000" stroke-width="1.5"  fill="none"/>
<path d="M305.80,280.04H337.60" stroke="#b00c0c" stroke-width="1.5"  fill="none"/>
<path d="M305.80,292.11H337.60" stroke="#0f8cff" stroke-width="1.5"  fill="none"/>
<path d="M305.80,304.18H337.60" stroke="#000" stroke-width="1.4" stroke-dasharray="3.6,1.7" fill="none"/>
<path d="M305.80,316.25H337.60" stroke="#000" stroke-width="1.5"  fill="none"/>
<path d="M305.8,327.5v1.60M307.7,327.5v1.60M309.6,327.5v1.60M311.5,327.5v1.60M313.4,327.5v1.60M315.3,327.5v1.60M317.2,327.5v1.60M319.1,327.5v1.60M321.0,327.5v1.60M322.9,327.5v1.60M324.8,327.5v1.60M326.7,327.5v1.60M328.6,327.5v1.60M330.5,327.5v1.60M332.4,327.5v1.60M334.3,327.5v1.60M336.2,327.5v1.60" fill="none" stroke="#000" stroke-width="1.20"/>
<g style="filter:grayscale(1)"><text x="209.40" y="259.40" font-size="12.60" textLength="8.40" lengthAdjust="spacingAndGlyphs" >Δ</text>
<text x="219.00" y="259.40" font-size="12.60" font-style="italic" textLength="11.00" lengthAdjust="spacingAndGlyphs" >m</text>
<text x="231.40" y="261.60" font-size="9.20" font-style="italic" textLength="8.80" lengthAdjust="spacingAndGlyphs" >Z</text>
<text x="245.00" y="259.40" font-size="12.60" textLength="54.00" lengthAdjust="spacingAndGlyphs" >and EW fit</text>
<text x="299.00" y="271.47" text-anchor="end" font-size="12.60">Direct Detection</text>
<text x="299.00" y="283.54" text-anchor="end" font-size="12.60">Electron/Muon g-2</text>
<text x="299.00" y="295.61" text-anchor="end" font-size="12.60">Monojet (CDF)</text>
<text x="299.00" y="307.68" text-anchor="end" font-size="12.60">MiniBooNE</text>
<text x="299.00" y="319.75" text-anchor="end" font-size="12.60">Relic density</text>
<text x="299.00" y="331.82" text-anchor="end" font-size="12.60">BaBar Sensitivity</text></g>
<path d="M476.00,17.10 L476.00,166.60 L480.28,164.51 L484.56,162.42 L488.84,160.33 L493.12,158.24 L497.40,156.16 L501.68,154.08 L505.96,152.00 L510.24,149.93 L514.52,147.86 L518.80,145.79 L523.08,143.73 L527.36,141.67 L531.64,139.62 L535.92,137.58 L540.20,135.54 L544.48,133.50 L548.76,131.48 L553.04,129.46 L557.32,127.45 L561.60,125.45 L565.88,123.46 L570.16,121.48 L574.44,119.51 L578.72,117.55 L583.00,115.61 L587.28,113.68 L591.56,111.76 L595.84,109.86 L600.12,107.98 L604.40,106.12 L608.68,104.28 L612.96,102.46 L617.24,100.66 L621.52,98.88 L625.80,97.13 L630.08,95.41 L634.36,93.72 L638.64,92.05 L642.92,90.42 L647.20,88.82 L651.48,87.26 L655.76,85.73 L660.04,84.24 L664.32,82.78 L668.60,81.37 L672.88,80.00 L677.16,78.67 L681.44,77.38 L685.72,76.14 L690.00,74.94 L694.28,73.79 L698.56,72.68 L702.84,71.62 L707.12,70.60 L711.40,69.63 L715.68,68.70 L719.96,67.82 L724.24,66.98 L728.52,66.19 L732.80,65.44 L737.08,64.73 L741.36,64.06 L745.64,63.43 L749.92,62.83 L754.20,62.28 L758.48,61.75 L762.76,61.26 L767.04,60.81 L771.32,60.38 L775.60,59.98 L779.88,59.61 L784.16,59.26 L788.44,58.94 L792.72,58.64 L797.00,58.36 L801.28,58.11 L805.56,57.87 L809.84,57.65 L814.12,57.44 L818.40,57.26 L818.40,17.10Z" fill="#b9b9b9"/>
<path d="M704.27,17.10 L704.27,217.64 L704.27,217.64 L708.87,219.97 L713.68,227.86 L717.68,232.82 L720.95,239.70 L723.92,243.34 L727.30,246.78 L730.68,249.41 L734.46,251.59 L738.35,253.26 L742.50,254.47 L750.53,255.28 L761.18,255.18 L766.60,254.78 L766.91,265.00 L767.53,287.76 L770.14,291.30 L775.51,296.36 L781.65,301.93 L785.49,305.21 L787.79,308.50 L790.86,314.57 L794.45,321.66 L799.05,329.25 L804.68,338.10 L808.27,341.89 L812.36,345.69 L815.43,349.48 L817.07,352.52 L817.89,355.65 L818.40,355.65 L818.40,17.10Z" fill="#b9b9b9"/>
<path d="M476.00,186.60 L479.19,185.14 L482.38,183.69 L485.56,182.23 L488.75,180.78 L491.94,179.33 L495.12,177.88 L498.31,176.43 L501.50,174.98 L504.69,173.54 L507.88,172.09 L511.06,170.65 L514.25,169.20 L517.44,167.66 L520.62,166.13 L523.81,164.60 L527.00,163.07 L530.19,161.54 L533.38,160.02 L536.56,158.49 L539.75,156.98 L542.94,155.46 L546.12,153.95 L549.31,152.45 L552.50,150.95 L555.69,149.46 L558.88,147.98 L562.06,146.51 L565.25,145.04 L568.44,143.58 L571.62,142.13 L574.81,140.68 L578.00,139.24 L581.19,137.80 L584.38,136.38 L587.56,134.96 L590.75,133.55 L593.94,132.15 L597.12,130.72 L600.31,129.30 L603.50,127.89 L603.50,127.50 L594.00,133.30 L554.00,157.80 L514.00,180.50 L476.00,201.30Z" fill="#00ff22"/>
<path d="M476.00,166.60 L479.33,164.97 L482.67,163.34 L486.00,161.72 L489.33,160.09 L492.66,158.47 L496.00,156.84 L499.33,155.22 L502.66,153.60 L505.99,151.99 L509.32,150.37 L512.66,148.76 L515.99,147.15 L519.32,145.54 L522.65,143.94 L525.99,142.33 L529.32,140.73 L532.65,139.14 L535.99,137.55 L539.32,135.96 L542.65,134.37 L545.98,132.79 L549.31,131.22 L552.65,129.64 L555.98,128.08 L559.31,126.52 L562.64,124.96 L565.98,123.41 L569.31,121.87 L572.64,120.33 L575.97,118.80 L579.31,117.28 L582.64,115.77 L585.97,114.26 L589.30,112.77 L592.64,111.28 L595.97,109.81 L599.30,108.34 L602.63,106.89 L605.97,105.44 L609.30,104.01 L609.30,109.89 L605.97,111.27 L602.63,112.65 L599.30,114.05 L595.97,115.46 L592.64,116.88 L589.30,118.31 L585.97,119.75 L582.64,121.20 L579.31,122.66 L575.97,124.12 L572.64,125.59 L569.31,127.07 L565.98,128.56 L562.64,130.05 L559.31,131.55 L555.98,133.09 L552.65,134.62 L549.31,136.17 L545.98,137.71 L542.65,139.26 L539.32,140.82 L535.99,142.38 L532.65,143.94 L529.32,145.51 L525.99,147.08 L522.65,148.65 L519.32,150.23 L515.99,151.81 L512.66,153.39 L509.32,154.97 L505.99,156.55 L502.66,158.14 L499.33,159.73 L496.00,161.32 L492.66,162.91 L489.33,164.51 L486.00,166.10 L482.67,167.70 L479.33,169.30 L476.00,170.90Z" fill="#00a01a"/>
<path d="M476.00,170.90 L480.28,168.85 L484.56,166.79 L488.84,164.74 L493.12,162.70 L497.40,160.65 L501.68,158.61 L505.96,156.57 L510.24,154.53 L514.52,152.50 L518.80,150.47 L523.08,148.45 L527.36,146.43 L531.64,144.42 L535.92,142.41 L540.20,140.41 L544.48,138.41 L548.76,136.42 L553.04,134.44 L557.32,132.47 L561.60,130.52 L565.88,128.60 L570.16,126.69 L574.44,124.80 L578.72,122.91 L583.00,121.04 L587.28,119.19 L591.56,117.34 L595.84,115.52 L600.12,113.71 L604.40,111.92 L608.68,110.15 L612.96,108.34 L617.24,106.53 L621.52,104.75 L625.80,102.99 L630.08,101.26 L634.36,99.56 L638.64,97.88 L642.92,96.24 L647.20,94.63 L651.48,93.05 L655.76,91.51 L660.04,90.01 L664.32,88.54 L668.60,87.12 L672.88,85.78 L677.16,84.52 L681.44,83.30 L685.72,82.12 L690.00,80.98 L694.28,79.89 L698.56,78.85 L702.84,77.85 L707.12,76.82 L711.40,75.82 L715.68,74.85 L719.96,73.94 L724.24,73.06 L728.52,72.23 L732.80,71.44 L737.08,70.70 L741.36,69.99 L745.64,69.32 L749.92,68.68 L754.20,68.09 L758.48,67.52 L762.76,66.99 L767.04,66.47 L771.32,65.99 L775.60,65.54 L779.88,65.11 L784.16,64.71 L788.44,64.33 L792.72,63.98 L797.00,63.65 L801.28,63.33 L805.56,63.04 L809.84,62.76 L814.12,62.50 L818.40,62.26 L818.40,78.01 L814.12,78.29 L809.84,78.58 L805.56,78.90 L801.28,79.23 L797.00,79.58 L792.72,79.95 L788.44,80.34 L784.16,80.76 L779.88,81.19 L775.60,81.66 L771.32,82.15 L767.04,82.67 L762.76,83.21 L758.48,83.79 L754.20,84.40 L749.92,85.04 L745.64,85.72 L741.36,86.44 L737.08,87.19 L732.80,87.99 L728.52,88.82 L724.24,89.70 L719.96,90.62 L715.68,91.58 L711.40,92.59 L707.12,93.64 L702.84,94.67 L698.56,95.57 L694.28,96.51 L690.00,97.50 L685.72,98.53 L681.44,99.61 L677.16,100.73 L672.88,101.90 L668.60,103.15 L664.32,104.53 L660.04,105.95 L655.76,107.41 L651.48,108.91 L647.20,110.44 L642.92,112.00 L638.64,113.60 L634.36,115.23 L630.08,116.89 L625.80,118.58 L621.52,120.29 L617.24,122.03 L612.96,123.80 L608.68,125.63 L604.40,127.50 L600.12,129.39 L595.84,131.29 L591.56,133.19 L587.28,135.08 L583.00,136.99 L578.72,138.91 L574.44,140.85 L570.16,142.80 L565.88,144.75 L561.60,146.72 L557.32,148.70 L553.04,150.69 L548.76,152.71 L544.48,154.73 L540.20,156.76 L535.92,158.80 L531.64,160.84 L527.36,162.89 L523.08,164.95 L518.80,167.01 L514.52,169.07 L510.24,171.02 L505.96,172.96 L501.68,174.90 L497.40,176.84 L493.12,178.79 L488.84,180.74 L484.56,182.69 L480.28,184.64 L476.00,186.60Z" fill="#87cefa"/>
<clipPath id="c2"><path d="M476.00,170.90 L480.28,168.85 L484.56,166.79 L488.84,164.74 L493.12,162.70 L497.40,160.65 L501.68,158.61 L505.96,156.57 L510.24,154.53 L514.52,152.50 L518.80,150.47 L523.08,148.45 L527.36,146.43 L531.64,144.42 L535.92,142.41 L540.20,140.41 L544.48,138.41 L548.76,136.42 L553.04,134.44 L557.32,132.47 L561.60,130.52 L565.88,128.60 L570.16,126.69 L574.44,124.80 L578.72,122.91 L583.00,121.04 L587.28,119.19 L591.56,117.34 L595.84,115.52 L600.12,113.71 L604.40,111.92 L608.68,110.15 L612.96,108.34 L617.24,106.53 L621.52,104.75 L625.80,102.99 L630.08,101.26 L634.36,99.56 L638.64,97.88 L642.92,96.24 L647.20,94.63 L651.48,93.05 L655.76,91.51 L660.04,90.01 L664.32,88.54 L668.60,87.12 L672.88,85.78 L677.16,84.52 L681.44,83.30 L685.72,82.12 L690.00,80.98 L694.28,79.89 L698.56,78.85 L702.84,77.85 L707.12,76.82 L711.40,75.82 L715.68,74.85 L719.96,73.94 L724.24,73.06 L728.52,72.23 L732.80,71.44 L737.08,70.70 L741.36,69.99 L745.64,69.32 L749.92,68.68 L754.20,68.09 L758.48,67.52 L762.76,66.99 L767.04,66.47 L771.32,65.99 L775.60,65.54 L779.88,65.11 L784.16,64.71 L788.44,64.33 L792.72,63.98 L797.00,63.65 L801.28,63.33 L805.56,63.04 L809.84,62.76 L814.12,62.50 L818.40,62.26 L818.40,78.01 L814.12,78.29 L809.84,78.58 L805.56,78.90 L801.28,79.23 L797.00,79.58 L792.72,79.95 L788.44,80.34 L784.16,80.76 L779.88,81.19 L775.60,81.66 L771.32,82.15 L767.04,82.67 L762.76,83.21 L758.48,83.79 L754.20,84.40 L749.92,85.04 L745.64,85.72 L741.36,86.44 L737.08,87.19 L732.80,87.99 L728.52,88.82 L724.24,89.70 L719.96,90.62 L715.68,91.58 L711.40,92.59 L707.12,93.64 L702.84,94.67 L698.56,95.57 L694.28,96.51 L690.00,97.50 L685.72,98.53 L681.44,99.61 L677.16,100.73 L672.88,101.90 L668.60,103.15 L664.32,104.53 L660.04,105.95 L655.76,107.41 L651.48,108.91 L647.20,110.44 L642.92,112.00 L638.64,113.60 L634.36,115.23 L630.08,116.89 L625.80,118.58 L621.52,120.29 L617.24,122.03 L612.96,123.80 L608.68,125.63 L604.40,127.50 L600.12,129.39 L595.84,131.29 L591.56,133.19 L587.28,135.08 L583.00,136.99 L578.72,138.91 L574.44,140.85 L570.16,142.80 L565.88,144.75 L561.60,146.72 L557.32,148.70 L553.04,150.69 L548.76,152.71 L544.48,154.73 L540.20,156.76 L535.92,158.80 L531.64,160.84 L527.36,162.89 L523.08,164.95 L518.80,167.01 L514.52,169.07 L510.24,171.02 L505.96,172.96 L501.68,174.90 L497.40,176.84 L493.12,178.79 L488.84,180.74 L484.56,182.69 L480.28,184.64 L476.00,186.60Z"/></clipPath>
<path d="M510.36,17.10V355.65M530.46,17.10V355.65M544.72,17.10V355.65M555.78,17.10V355.65M564.81,17.10V355.65M572.45,17.10V355.65M579.07,17.10V355.65M584.91,17.10V355.65M590.13,17.10V355.65M594.86,17.10V355.65M599.17,17.10V355.65M603.14,17.10V355.65M606.81,17.10V355.65M610.23,17.10V355.65M613.43,17.10V355.65M616.44,17.10V355.65M619.27,17.10V355.65M621.95,17.10V355.65M624.49,17.10V355.65M626.91,17.10V355.65M629.22,17.10V355.65M631.42,17.10V355.65M633.53,17.10V355.65M635.55,17.10V355.65M637.50,17.10V355.65M639.37,17.10V355.65M641.17,17.10V355.65M642.91,17.10V355.65M644.59,17.10V355.65M646.21,17.10V355.65M649.31,17.10V355.65M652.23,17.10V355.65M654.98,17.10V355.65M657.59,17.10V355.65M660.07,17.10V355.65M662.43,17.10V355.65M664.69,17.10V355.65M666.84,17.10V355.65M668.91,17.10V355.65M670.89,17.10V355.65M672.80,17.10V355.65M674.63,17.10V355.65M676.40,17.10V355.65M678.11,17.10V355.65M679.77,17.10V355.65M682.15,17.10V355.65M684.42,17.10V355.65M686.59,17.10V355.65M688.67,17.10V355.65M690.66,17.10V355.65M692.58,17.10V355.65M694.43,17.10V355.65M696.21,17.10V355.65M697.93,17.10V355.65M699.59,17.10V355.65M701.20,17.10V355.65M703.27,17.10V355.65M705.25,17.10V355.65M707.15,17.10V355.65M708.99,17.10V355.65M710.76,17.10V355.65M712.47,17.10V355.65M714.12,17.10V355.65M716.11,17.10V355.65M718.03,17.10V355.65M719.87,17.10V355.65M721.65,17.10V355.65M723.36,17.10V355.65M725.02,17.10V355.65M726.63,17.10V355.65M728.48,17.10V355.65M730.28,17.10V355.65M732.01,17.10V355.65M733.68,17.10V355.65M735.29,17.10V355.65M737.11,17.10V355.65M738.87,17.10V355.65M740.57,17.10V355.65M742.21,17.10V355.65M744.02,17.10V355.65M745.77,17.10V355.65M747.45,17.10V355.65M749.09,17.10V355.65M750.86,17.10V355.65M752.57,17.10V355.65M754.23,17.10V355.65M755.83,17.10V355.65M757.55,17.10V355.65M759.22,17.10V355.65M760.82,17.10V355.65M762.54,17.10V355.65M764.19,17.10V355.65M765.79,17.10V355.65M767.48,17.10V355.65M769.12,17.10V355.65M770.83,17.10V355.65M772.48,17.10V355.65M774.08,17.10V355.65M775.75,17.10V355.65M777.37,17.10V355.65M779.04,17.10V355.65M780.66,17.10V355.65M782.33,17.10V355.65M783.94,17.10V355.65M785.60,17.10V355.65M787.21,17.10V355.65M788.86,17.10V355.65M790.54,17.10V355.65M792.16,17.10V355.65M793.82,17.10V355.65M795.42,17.10V355.65M797.05,17.10V355.65M798.70,17.10V355.65M800.37,17.10V355.65M801.98,17.10V355.65M803.61,17.10V355.65M805.25,17.10V355.65M806.90,17.10V355.65M808.56,17.10V355.65M810.17,17.10V355.65M811.78,17.10V355.65M813.40,17.10V355.65M815.02,17.10V355.65M816.63,17.10V355.65M818.25,17.10V355.65" stroke="#c4e6fd" stroke-width="0.55" opacity="0.35" fill="none" clip-path="url(#c2)"/>
<path d="M476.00,170.90 L480.28,168.85 L484.56,166.79 L488.84,164.74 L493.12,162.70 L497.40,160.65 L501.68,158.61 L505.96,156.57 L510.24,154.53 L514.52,152.50 L518.80,150.47 L523.08,148.45 L527.36,146.43 L531.64,144.42 L535.92,142.41 L540.20,140.41 L544.48,138.41 L548.76,136.42 L553.04,134.44 L557.32,132.47 L561.60,130.52 L565.88,128.60 L570.16,126.69 L574.44,124.80 L578.72,122.91 L583.00,121.04 L587.28,119.19 L591.56,117.34 L595.84,115.52 L600.12,113.71 L604.40,111.92 L608.68,110.15 L612.96,108.34 L617.24,106.53 L621.52,104.75 L625.80,102.99 L630.08,101.26 L634.36,99.56 L638.64,97.88 L642.92,96.24 L647.20,94.63 L651.48,93.05 L655.76,91.51 L660.04,90.01 L664.32,88.54 L668.60,87.12 L672.88,85.78 L677.16,84.52 L681.44,83.30 L685.72,82.12 L690.00,80.98 L694.28,79.89 L698.56,78.85 L702.84,77.85 L707.12,76.82 L711.40,75.82 L715.68,74.85 L719.96,73.94 L724.24,73.06 L728.52,72.23 L732.80,71.44 L737.08,70.70 L741.36,69.99 L745.64,69.32 L749.92,68.68 L754.20,68.09 L758.48,67.52 L762.76,66.99 L767.04,66.47 L771.32,65.99 L775.60,65.54 L779.88,65.11 L784.16,64.71 L788.44,64.33 L792.72,63.98 L797.00,63.65 L801.28,63.33 L805.56,63.04 L809.84,62.76 L814.12,62.50 L818.40,62.26" fill="none" stroke="#111" stroke-width="0.7"  />
<path d="M476.00,186.60 L480.28,184.64 L484.56,182.69 L488.84,180.74 L493.12,178.79 L497.40,176.84 L501.68,174.90 L505.96,172.96 L510.24,171.02 L514.52,169.07 L518.80,167.01 L523.08,164.95 L527.36,162.89 L531.64,160.84 L535.92,158.80 L540.20,156.76 L544.48,154.73 L548.76,152.71 L553.04,150.69 L557.32,148.70 L561.60,146.72 L565.88,144.75 L570.16,142.80 L574.44,140.85 L578.72,138.91 L583.00,136.99 L587.28,135.08 L591.56,133.19 L595.84,131.29 L600.12,129.39 L604.40,127.50 L608.68,125.63 L612.96,123.80 L617.24,122.03 L621.52,120.29 L625.80,118.58 L630.08,116.89 L634.36,115.23 L638.64,113.60 L642.92,112.00 L647.20,110.44 L651.48,108.91 L655.76,107.41 L660.04,105.95 L664.32,104.53 L668.60,103.15 L672.88,101.90 L677.16,100.73 L681.44,99.61 L685.72,98.53 L690.00,97.50 L694.28,96.51 L698.56,95.57 L702.84,94.67 L707.12,93.64 L711.40,92.59 L715.68,91.58 L719.96,90.62 L724.24,89.70 L728.52,88.82 L732.80,87.99 L737.08,87.19 L741.36,86.44 L745.64,85.72 L749.92,85.04 L754.20,84.40 L758.48,83.79 L762.76,83.21 L767.04,82.67 L771.32,82.15 L775.60,81.66 L779.88,81.19 L784.16,80.76 L788.44,80.34 L792.72,79.95 L797.00,79.58 L801.28,79.23 L805.56,78.90 L809.84,78.58 L814.12,78.29 L818.40,78.01" fill="none" stroke="#111" stroke-width="0.7"  />
<path d="M476.00,122.20 L479.55,120.46 L483.11,118.73 L486.66,116.99 L490.22,115.26 L493.77,113.53 L497.33,111.80 L500.88,110.07 L504.43,108.34 L507.99,106.62 L511.54,104.90 L515.10,103.18 L518.65,101.46 L522.21,99.75 L525.76,98.04 L529.32,96.34 L532.87,94.63 L536.42,92.94 L539.98,91.24 L543.53,89.55 L547.09,87.87 L550.64,86.19 L554.20,84.52 L557.75,82.85 L561.30,81.19 L564.86,79.53 L568.41,77.88 L571.97,76.24 L575.52,74.61 L579.08,72.99 L582.63,71.37 L586.18,69.77 L589.74,68.17 L593.29,66.59 L596.85,65.02 L600.40,63.46 L603.96,61.91 L607.51,60.38 L611.07,58.86 L614.62,57.36 L618.17,55.87 L621.73,54.40 L625.28,52.94 L628.84,51.51 L632.39,50.09 L635.95,48.70 L639.50,47.32 L643.05,45.97 L646.61,44.64 L650.16,43.33 L653.72,42.05 L657.27,40.80 L660.83,39.57 L664.38,38.36 L667.93,37.19 L671.49,36.04 L675.04,34.92 L678.60,33.83 L682.15,32.77 L685.71,31.74 L689.26,30.74 L692.81,29.78 L696.37,28.84 L699.92,27.94 L703.48,27.06 L707.03,26.22 L710.59,25.41 L714.14,24.63 L717.70,23.88 L721.25,23.17 L724.80,22.48 L728.36,21.82 L731.91,21.19 L735.47,20.59 L739.02,20.02 L742.58,19.48 L746.13,18.96 L749.68,18.47 L753.24,18.00 L756.79,17.56 L760.35,17.14" fill="none" stroke="#0f8cff" stroke-width="1.7"  />
<path d="M476.00,142.80 L480.28,140.71 L484.56,138.62 L488.84,136.53 L493.12,134.44 L497.40,132.36 L501.68,130.28 L505.96,128.20 L510.24,126.13 L514.52,124.06 L518.80,121.99 L523.08,119.93 L527.36,117.87 L531.64,115.82 L535.92,113.78 L540.20,111.74 L544.48,109.70 L548.76,107.68 L553.04,105.66 L557.32,103.65 L561.60,101.65 L565.88,99.66 L570.16,97.68 L574.44,95.71 L578.72,93.75 L583.00,91.81 L587.28,89.88 L591.56,87.96 L595.84,86.06 L600.12,84.18 L604.40,82.32 L608.68,80.48 L612.96,78.66 L617.24,76.86 L621.52,75.08 L625.80,73.33 L630.08,71.61 L634.36,69.92 L638.64,68.25 L642.92,66.62 L647.20,65.02 L651.48,63.46 L655.76,61.93 L660.04,60.44 L664.32,58.98 L668.60,57.57 L672.88,56.20 L677.16,54.87 L681.44,53.58 L685.72,52.34 L690.00,51.14 L694.28,49.99 L698.56,48.88 L702.84,47.82 L707.12,46.80 L711.40,45.83 L715.68,44.90 L719.96,44.02 L724.24,43.18 L728.52,42.39 L732.80,41.64 L737.08,40.93 L741.36,40.26 L745.64,39.63 L749.92,39.03 L754.20,38.48 L758.48,37.95 L762.76,37.46 L767.04,37.01 L771.32,36.58 L775.60,36.18 L779.88,35.81 L784.16,35.46 L788.44,35.14 L792.72,34.84 L797.00,34.56 L801.28,34.31 L805.56,34.07 L809.84,33.85 L814.12,33.64 L818.40,33.46" fill="none" stroke="#8408fa" stroke-width="1.8"  />
<path d="M476.00,166.60 L480.28,164.51 L484.56,162.42 L488.84,160.33 L493.12,158.24 L497.40,156.16 L501.68,154.08 L505.96,152.00 L510.24,149.93 L514.52,147.86 L518.80,145.79 L523.08,143.73 L527.36,141.67 L531.64,139.62 L535.92,137.58 L540.20,135.54 L544.48,133.50 L548.76,131.48 L553.04,129.46 L557.32,127.45 L561.60,125.45 L565.88,123.46 L570.16,121.48 L574.44,119.51 L578.72,117.55 L583.00,115.61 L587.28,113.68 L591.56,111.76 L595.84,109.86 L600.12,107.98 L604.40,106.12 L608.68,104.28 L612.96,102.46 L617.24,100.66 L621.52,98.88 L625.80,97.13 L630.08,95.41 L634.36,93.72 L638.64,92.05 L642.92,90.42 L647.20,88.82 L651.48,87.26 L655.76,85.73 L660.04,84.24 L664.32,82.78 L668.60,81.37 L672.88,80.00 L677.16,78.67 L681.44,77.38 L685.72,76.14 L690.00,74.94 L694.28,73.79 L698.56,72.68 L702.84,71.62 L707.12,70.60 L711.40,69.63 L715.68,68.70 L719.96,67.82 L724.24,66.98 L728.52,66.19 L732.80,65.44 L737.08,64.73 L741.36,64.06 L745.64,63.43 L749.92,62.83 L754.20,62.28 L758.48,61.75 L762.76,61.26 L767.04,60.81 L771.32,60.38 L775.60,59.98 L779.88,59.61 L784.16,59.26 L788.44,58.94 L792.72,58.64 L797.00,58.36 L801.28,58.11 L805.56,57.87 L809.84,57.65 L814.12,57.44 L818.40,57.26" fill="none" stroke="#b00c0c" stroke-width="1.9"  />
<path d="M476.00,158.30 L477.56,157.48 L479.58,156.41 L481.97,155.14 L484.66,153.71 L487.57,152.17 L490.62,150.56 L493.73,148.92 L496.81,147.30 L499.81,145.73 L502.62,144.26 L505.18,142.94 L507.40,141.80 L509.32,140.84 L511.05,139.99 L512.61,139.23 L514.04,138.56 L515.38,137.94 L516.65,137.36 L517.89,136.80 L519.12,136.24 L520.39,135.66 L521.72,135.04 L523.15,134.36 L524.70,133.60 L526.38,132.77 L528.16,131.90 L530.00,130.99 L531.90,130.06 L533.83,129.10 L535.77,128.13 L537.70,127.16 L539.60,126.19 L541.45,125.23 L543.23,124.29 L544.92,123.38 L546.50,122.50 L547.96,121.66 L549.30,120.86 L550.56,120.08 L551.76,119.32 L552.90,118.58 L554.01,117.83 L555.10,117.08 L556.21,116.32 L557.34,115.54 L558.52,114.73 L559.77,113.89 L561.10,113.00 L562.51,112.07 L563.96,111.09 L565.46,110.09 L567.00,109.05 L568.56,108.00 L570.14,106.93 L571.73,105.86 L573.33,104.78 L574.92,103.71 L576.50,102.65 L578.06,101.61 L579.60,100.60 L581.14,99.59 L582.72,98.56 L584.32,97.53 L585.93,96.50 L587.53,95.47 L589.12,94.45 L590.68,93.45 L592.20,92.48 L593.66,91.54 L595.06,90.65 L596.37,89.80 L597.60,89.00 L598.76,88.24 L599.87,87.51 L600.94,86.80 L601.96,86.13 L602.92,85.48 L603.82,84.88 L604.67,84.31 L605.44,83.79 L606.15,83.31 L606.78,82.88 L607.33,82.51 L607.80,82.20" fill="none" stroke="#000" stroke-width="1.5" stroke-dasharray="4.4,2.4" />
<path d="M476.00,201.30 L514.00,180.50 L554.00,157.80 L594.00,133.30 L603.50,127.50" fill="none" stroke="#000" stroke-width="1.5" stroke-dasharray="4.4,2.4" />
<path d="M476.0,194.2v1.60M477.7,193.3v1.60M479.4,192.5v1.60M481.1,191.6v1.60M482.8,190.8v1.60M484.5,189.9v1.60M486.2,189.1v1.60M487.9,188.2v1.60M489.6,187.3v1.60M491.3,186.5v1.60M493.0,185.6v1.60M494.7,184.8v1.60M496.3,183.9v1.60M498.0,183.1v1.60M499.7,182.2v1.60M501.4,181.3v1.60M503.1,180.5v1.60M504.8,179.6v1.60M506.5,178.8v1.60M508.2,177.9v1.60M509.9,177.1v1.60M511.6,176.2v1.60M513.3,175.3v1.60M515.0,174.5v1.60M516.7,173.6v1.60M518.4,172.8v1.60M520.1,171.9v1.60M521.8,171.0v1.60M523.4,170.1v1.60M525.1,169.3v1.60M526.8,168.4v1.60M528.5,167.5v1.60M530.2,166.6v1.60M531.9,165.7v1.60M533.6,164.9v1.60M535.2,164.0v1.60M536.9,163.1v1.60M538.6,162.3v1.60M540.3,161.4v1.60M542.0,160.5v1.60M543.7,159.7v1.60M545.4,158.9v1.60M547.1,158.0v1.60M548.8,157.2v1.60M550.6,156.4v1.60M552.3,155.6v1.60M554.0,154.8v1.60M555.7,154.0v1.60M557.5,153.3v1.60M559.2,152.5v1.60M561.0,151.8v1.60M562.7,151.1v1.60M564.5,150.3v1.60M566.3,149.6v1.60M568.0,148.9v1.60M569.8,148.2v1.60M571.6,147.5v1.60M573.3,146.9v1.60M575.1,146.2v1.60M576.9,145.5v1.60M578.7,144.8v1.60M580.4,144.1v1.60M582.2,143.5v1.60M584.0,142.8v1.60M585.8,142.1v1.60M587.5,141.4v1.60M589.3,140.7v1.60M591.1,140.0v1.60M592.8,139.3v1.60M594.6,138.6v1.60M596.3,137.8v1.60M598.1,137.0v1.60M599.8,136.2v1.60M601.5,135.4v1.60M603.2,134.6v1.60M604.9,133.8v1.60M606.6,132.9v1.60M608.3,132.0v1.60M610.0,131.2v1.60M610.1,129.6v1.00M610.1,127.7v1.00M610.1,125.8v1.00M610.1,123.9v1.00M610.1,122.0v1.00M610.1,120.1v1.00M610.1,118.2v1.00M610.1,116.3v1.00M610.1,114.4v1.00M610.1,112.5v1.00M610.1,110.6v1.00M610.1,108.7v1.00M610.1,106.8v1.00M610.1,104.9v1.00M610.2,102.8v1.60M612.0,102.1v1.60M613.7,101.3v1.60M615.5,100.6v1.60M617.2,99.9v1.60M619.0,99.1v1.60M620.7,98.4v1.60M622.5,97.7v1.60M624.3,97.0v1.60M626.0,96.2v1.60M627.8,95.5v1.60M629.5,94.8v1.60M631.3,94.1v1.60M633.1,93.4v1.60M634.8,92.7v1.60M636.6,92.0v1.60M638.4,91.4v1.60M640.2,90.7v1.60M641.9,90.0v1.60M643.7,89.3v1.60M645.5,88.7v1.60M647.3,88.0v1.60M649.1,87.3v1.60M650.8,86.7v1.60M652.6,86.0v1.60M654.4,85.4v1.60M656.2,84.8v1.60M658.0,84.1v1.60M659.8,83.5v1.60M661.6,82.9v1.60M663.4,82.3v1.60M665.2,81.7v1.60M667.0,81.1v1.60M668.8,80.5v1.60M670.6,79.9v1.60M672.4,79.3v1.60M674.2,78.8v1.60M676.0,78.2v1.60M677.9,77.7v1.60M679.7,77.1v1.60M681.5,76.6v1.60M683.3,76.0v1.60M685.2,75.5v1.60M687.0,75.0v1.60M688.8,74.5v1.60M690.6,74.0v1.60M692.5,73.5v1.60M694.3,73.0v1.60M696.2,72.5v1.60M698.0,72.0v1.60M699.8,71.6v1.60M701.7,71.1v1.60M703.5,70.7v1.60M705.4,70.2v1.60M707.2,69.8v1.60M709.1,69.4v1.60M710.9,68.9v1.60M712.8,68.5v1.60M714.6,68.1v1.60M716.5,67.7v1.60M718.4,67.3v1.60M720.2,67.0v1.60M722.1,66.6v1.60M724.0,66.2v1.60M725.8,65.9v1.60M727.7,65.5v1.60M729.6,65.2v1.60M731.4,64.9v1.60M733.3,64.6v1.60M735.2,64.2v1.60M737.0,63.9v1.60M738.9,63.6v1.60M740.8,63.3v1.60M742.7,63.1v1.60M744.6,62.8v1.60M746.4,62.5v1.60M748.3,62.3v1.60M750.2,62.0v1.60M752.1,61.7v1.60M754.0,61.5v1.60M755.9,61.3v1.60M757.7,61.0v1.60M759.6,60.8v1.60M761.5,60.6v1.60M763.4,60.4v1.60M765.3,60.2v1.60M767.2,60.0v1.60M769.1,59.8v1.60M771.0,59.6v1.60M772.9,59.4v1.60M774.8,59.3v1.60M776.6,59.1v1.60M778.5,58.9v1.60M780.4,58.8v1.60M782.3,58.6v1.60M784.2,58.5v1.60M786.1,58.3v1.60M788.0,58.2v1.60M789.9,58.0v1.60M791.8,57.9v1.60M793.7,57.8v1.60M795.6,57.7v1.60M797.5,57.5v1.60M799.4,57.4v1.60M801.3,57.3v1.60M803.2,57.2v1.60M805.1,57.1v1.60M807.0,57.0v1.60M808.9,56.9v1.60M810.8,56.8v1.60M812.7,56.7v1.60M814.6,56.6v1.60M816.5,56.5v1.60M818.4,56.5v1.60" fill="none" stroke="#000" stroke-width="1.20"/>
<path d="M476.00,170.39 L477.03,170.40 L478.31,170.42 L479.82,170.44 L481.52,170.46 L483.36,170.48 L485.31,170.50 L487.34,170.53 L489.39,170.56 L491.45,170.59 L493.45,170.62 L495.38,170.66 L497.19,170.69 L498.90,170.73 L500.58,170.76 L502.24,170.80 L503.88,170.83 L505.51,170.86 L507.15,170.90 L508.80,170.95 L510.48,171.00 L512.20,171.06 L513.96,171.13 L515.78,171.21 L517.66,171.30 L519.65,171.41 L521.75,171.53 L523.94,171.66 L526.19,171.81 L528.48,171.96 L530.78,172.12 L533.06,172.28 L535.29,172.45 L537.45,172.62 L539.52,172.79 L541.46,172.96 L543.25,173.12 L544.91,173.29 L546.46,173.46 L547.93,173.63 L549.32,173.80 L550.63,173.98 L551.89,174.15 L553.09,174.33 L554.25,174.51 L555.37,174.69 L556.46,174.88 L557.54,175.06 L558.61,175.25 L559.64,175.43 L560.63,175.62 L561.57,175.80 L562.47,175.99 L563.34,176.18 L564.17,176.37 L564.98,176.56 L565.77,176.75 L566.55,176.95 L567.31,177.15 L568.08,177.36 L568.84,177.57 L569.60,177.79 L570.34,178.00 L571.06,178.22 L571.76,178.44 L572.45,178.66 L573.13,178.88 L573.80,179.12 L574.45,179.35 L575.10,179.60 L575.75,179.86 L576.39,180.13 L577.03,180.41 L577.67,180.70 L578.32,181.01 L578.97,181.33 L579.61,181.66 L580.24,182.00 L580.87,182.35 L581.48,182.70 L582.07,183.05 L582.64,183.41 L583.19,183.76 L583.71,184.11 L584.20,184.45 L584.65,184.79 L585.06,185.13 L585.45,185.46 L585.81,185.78 L586.15,186.11 L586.47,186.45 L586.78,186.78 L587.08,187.13 L587.38,187.48 L587.67,187.84 L587.98,188.21 L588.29,188.60 L588.61,189.00 L588.92,189.40 L589.22,189.81 L589.52,190.23 L589.82,190.65 L590.11,191.09 L590.41,191.53 L590.70,191.99 L590.99,192.46 L591.28,192.95 L591.58,193.45 L591.87,193.97 L592.17,194.49 L592.47,195.02 L592.77,195.56 L593.07,196.11 L593.37,196.67 L593.66,197.25 L593.96,197.85 L594.26,198.47 L594.56,199.11 L594.86,199.79 L595.16,200.50 L595.46,201.25 L595.76,202.03 L596.06,202.84 L596.36,203.67 L596.67,204.53 L596.97,205.41 L597.28,206.32 L597.58,207.26 L597.88,208.23 L598.18,209.22 L598.47,210.25 L598.76,211.30 L599.04,212.38 L599.32,213.50 L599.59,214.68 L599.87,215.89 L600.14,217.14 L600.41,218.42 L600.67,219.72 L600.93,221.03 L601.18,222.35 L601.43,223.67 L601.66,224.98 L601.89,226.28 L602.11,227.56 L602.32,228.83 L602.52,230.12 L602.72,231.42 L602.90,232.73 L603.08,234.04 L603.25,235.34 L603.42,236.63 L603.58,237.90 L603.73,239.15 L603.88,240.38 L604.02,241.58 L604.16,242.74 L604.28,243.85 L604.40,244.93 L604.51,245.98 L604.61,247.01 L604.71,248.01 L604.80,249.00 L604.88,249.97 L604.96,250.94 L605.04,251.91 L605.12,252.89 L605.20,253.87 L605.28,254.88 L605.36,255.88 L605.44,256.88 L605.51,257.87 L605.57,258.85 L605.64,259.83 L605.71,260.82 L605.77,261.82 L605.83,262.82 L605.90,263.84 L605.96,264.88 L606.03,265.94 L606.10,267.02 L606.18,268.13 L606.25,269.29 L606.34,270.47 L606.42,271.67 L606.50,272.88 L606.58,274.10 L606.67,275.32 L606.75,276.54 L606.82,277.74 L606.89,278.92 L606.96,280.07 L607.02,281.18 L607.08,282.23 L607.13,283.17 L607.18,284.05 L607.22,284.89 L607.27,285.72 L607.30,286.56 L607.34,287.44 L607.37,288.38 L607.40,289.41 L607.43,290.56 L607.46,291.86 L607.48,293.33 L607.51,294.97 L607.52,296.77 L607.54,298.70 L607.55,300.75 L607.56,302.88 L607.56,305.09 L607.57,307.34 L607.57,309.63 L607.58,311.92 L607.58,314.19 L607.58,316.44 L607.59,318.62 L607.59,320.86 L607.59,323.25 L607.59,325.74 L607.59,328.29 L607.59,330.84 L607.59,333.36 L607.59,335.78 L607.59,338.07 L607.59,340.18 L607.59,342.05 L607.59,343.65 L607.59,344.93 L607.59,343.65 L607.59,342.05 L607.59,340.18 L607.60,338.07 L607.60,335.78 L607.61,333.36 L607.61,330.84 L607.61,328.29 L607.62,325.74 L607.63,323.25 L607.63,320.86 L607.64,318.62 L607.64,316.44 L607.65,314.19 L607.65,311.92 L607.65,309.63 L607.65,307.34 L607.65,305.09 L607.66,302.88 L607.67,300.75 L607.68,298.70 L607.69,296.77 L607.71,294.97 L607.74,293.33 L607.77,291.86 L607.80,290.56 L607.83,289.41 L607.87,288.38 L607.91,287.44 L607.95,286.56 L608.00,285.72 L608.05,284.89 L608.12,284.05 L608.19,283.17 L608.27,282.23 L608.35,281.18 L608.46,280.07 L608.57,278.92 L608.70,277.74 L608.84,276.54 L608.98,275.32 L609.13,274.10 L609.28,272.88 L609.43,271.67 L609.58,270.47 L609.72,269.29 L609.86,268.13 L609.99,267.02 L610.11,265.94 L610.23,264.88 L610.34,263.84 L610.45,262.82 L610.56,261.82 L610.66,260.82 L610.77,259.83 L610.87,258.85 L610.98,257.87 L611.09,256.88 L611.21,255.88 L611.32,254.88 L611.44,253.88 L611.55,252.92 L611.67,251.98 L611.78,251.05 L611.90,250.13 L612.01,249.19 L612.13,248.22 L612.26,247.23 L612.40,246.20 L612.54,245.11 L612.69,243.96 L612.86,242.74 L613.03,241.43 L613.22,240.04 L613.41,238.59 L613.62,237.08 L613.83,235.53 L614.04,233.95 L614.26,232.35 L614.49,230.74 L614.72,229.15 L614.95,227.57 L615.18,226.02 L615.42,224.52 L615.65,223.04 L615.89,221.55 L616.14,220.06 L616.38,218.56 L616.63,217.08 L616.89,215.61 L617.15,214.15 L617.41,212.72 L617.67,211.31 L617.94,209.94 L618.21,208.61 L618.49,207.32 L618.76,206.08 L619.03,204.90 L619.30,203.75 L619.57,202.64 L619.84,201.55 L620.12,200.49 L620.41,199.44 L620.71,198.40 L621.02,197.36 L621.35,196.31 L621.70,195.25 L622.07,194.17 L622.47,193.05 L622.90,191.91 L623.36,190.74 L623.83,189.56 L624.32,188.38 L624.82,187.21 L625.32,186.06 L625.82,184.95 L626.32,183.88 L626.80,182.86 L627.26,181.90 L627.70,181.01 L628.12,180.21 L628.52,179.47 L628.91,178.78 L629.29,178.15 L629.67,177.56 L630.04,177.00 L630.40,176.47 L630.77,175.96 L631.14,175.45 L631.52,174.95 L631.91,174.45 L632.31,173.93 L632.71,173.41 L633.11,172.91 L633.51,172.41 L633.92,171.93 L634.32,171.46 L634.74,171.00 L635.16,170.55 L635.59,170.11 L636.02,169.67 L636.48,169.23 L636.94,168.80 L637.42,168.37 L637.95,167.93 L638.52,167.47 L639.14,167.01 L639.77,166.55 L640.42,166.09 L641.07,165.64 L641.70,165.21 L642.30,164.81 L642.85,164.45 L643.34,164.12 L643.75,163.84 L644.08,163.61" fill="none" stroke="#000" stroke-width="1.6"  stroke-linejoin="round"/>
<path d="M704.27,217.64 L708.87,219.97 L713.68,227.86 L717.68,232.82 L720.95,239.70 L723.92,243.34 L727.30,246.78 L730.68,249.41 L734.46,251.59 L738.35,253.26 L742.50,254.47 L750.53,255.28 L761.18,255.18 L766.60,254.78 L766.91,265.00 L767.53,287.76 L770.14,291.30 L775.51,296.36 L781.65,301.93 L785.49,305.21 L787.79,308.50 L790.86,314.57 L794.45,321.66 L799.05,329.25 L804.68,338.10 L808.27,341.89 L812.36,345.69 L815.43,349.48 L817.07,352.52 L817.89,355.65" fill="none" stroke="#ff0000" stroke-width="1.6"  stroke-linejoin="round"/>
<path d="M607.60,126.00H693.60" stroke="#990099" stroke-width="2"/>
<path d="M599.60,126.00l17.00,-3.50l-3,3.50l3,3.50z" fill="#990099"/>
<path d="M701.60,126.00l-17.00,-3.50l3,3.50l-3,3.50z" fill="#990099"/>
<g style="opacity:0.999"><text x="653.30" y="146.60" text-anchor="middle" class="lbne">LBNE</text></g>
<path d="M510.36,355.65v-2.60M510.36,17.10v2.60M530.46,355.65v-2.60M530.46,17.10v2.60M544.72,355.65v-2.60M544.72,17.10v2.60M555.78,355.65v-2.60M555.78,17.10v2.60M564.81,355.65v-2.60M564.81,17.10v2.60M572.45,355.65v-2.60M572.45,17.10v2.60M579.07,355.65v-2.60M579.07,17.10v2.60M584.91,355.65v-2.60M584.91,17.10v2.60M590.13,355.65v-5.60M590.13,17.10v5.60M624.49,355.65v-2.60M624.49,17.10v2.60M644.59,355.65v-2.60M644.59,17.10v2.60M658.85,355.65v-2.60M658.85,17.10v2.60M669.91,355.65v-2.60M669.91,17.10v2.60M678.95,355.65v-2.60M678.95,17.10v2.60M686.59,355.65v-2.60M686.59,17.10v2.60M693.21,355.65v-2.60M693.21,17.10v2.60M699.04,355.65v-2.60M699.04,17.10v2.60M704.27,355.65v-5.60M704.27,17.10v5.60M738.62,355.65v-2.60M738.62,17.10v2.60M758.72,355.65v-2.60M758.72,17.10v2.60M772.98,355.65v-2.60M772.98,17.10v2.60M784.04,355.65v-2.60M784.04,17.10v2.60M793.08,355.65v-2.60M793.08,17.10v2.60M800.72,355.65v-2.60M800.72,17.10v2.60M807.34,355.65v-2.60M807.34,17.10v2.60M813.18,355.65v-2.60M813.18,17.10v2.60M476.00,73.52h6.2M818.40,73.52h-6.2M476.00,129.95h6.2M818.40,129.95h-6.2M476.00,186.37h6.2M818.40,186.37h-6.2M476.00,242.80h6.2M818.40,242.80h-6.2M476.00,299.22h6.2M818.40,299.22h-6.2" stroke="#222" stroke-width="1.15" fill="none"/>
<path d="M818.40,17.10V355.65" fill="none" stroke="#222" stroke-width="1.5"/>
<path d="M818.40,17.10H476.00V355.65H818.40" fill="none" stroke="#222" stroke-width="1.55" stroke-linecap="square"/>
<g style="filter:grayscale(1)"><text x="431.70" y="21.20" font-size="13.20" textLength="14.40" lengthAdjust="spacingAndGlyphs" >10</text>
<path d="M447.90,13.00H454.50" stroke="#222" stroke-width="0.95"/>
<text x="456.40" y="15.70" font-size="9.70" textLength="11.30" lengthAdjust="spacingAndGlyphs" >30</text>
<text x="431.70" y="77.62" font-size="13.20" textLength="14.40" lengthAdjust="spacingAndGlyphs" >10</text>
<path d="M447.90,69.42H454.50" stroke="#222" stroke-width="0.95"/>
<text x="456.40" y="72.12" font-size="9.70" textLength="11.30" lengthAdjust="spacingAndGlyphs" >32</text>
<text x="431.70" y="134.05" font-size="13.20" textLength="14.40" lengthAdjust="spacingAndGlyphs" >10</text>
<path d="M447.90,125.85H454.50" stroke="#222" stroke-width="0.95"/>
<text x="456.40" y="128.55" font-size="9.70" textLength="11.30" lengthAdjust="spacingAndGlyphs" >34</text>
<text x="431.70" y="190.47" font-size="13.20" textLength="14.40" lengthAdjust="spacingAndGlyphs" >10</text>
<path d="M447.90,182.27H454.50" stroke="#222" stroke-width="0.95"/>
<text x="456.40" y="184.97" font-size="9.70" textLength="11.30" lengthAdjust="spacingAndGlyphs" >36</text>
<text x="431.70" y="246.90" font-size="13.20" textLength="14.40" lengthAdjust="spacingAndGlyphs" >10</text>
<path d="M447.90,238.70H454.50" stroke="#222" stroke-width="0.95"/>
<text x="456.40" y="241.40" font-size="9.70" textLength="11.30" lengthAdjust="spacingAndGlyphs" >38</text>
<text x="431.70" y="303.32" font-size="13.20" textLength="14.40" lengthAdjust="spacingAndGlyphs" >10</text>
<path d="M447.90,295.12H454.50" stroke="#222" stroke-width="0.95"/>
<text x="456.40" y="297.82" font-size="9.70" textLength="11.30" lengthAdjust="spacingAndGlyphs" >40</text>
<text x="431.70" y="359.75" font-size="13.20" textLength="14.40" lengthAdjust="spacingAndGlyphs" >10</text>
<path d="M447.90,351.55H454.50" stroke="#222" stroke-width="0.95"/>
<text x="456.40" y="354.25" font-size="9.70" textLength="11.30" lengthAdjust="spacingAndGlyphs" >42</text>
<text x="477.00" y="370.65" text-anchor="middle" font-size="12.1">0.01</text>
<text x="591.13" y="370.65" text-anchor="middle" font-size="12.1">0.1</text>
<text x="705.27" y="370.65" text-anchor="middle" font-size="12.1">1</text>
<text x="819.40" y="370.65" text-anchor="middle" font-size="12.1">10</text>
<text x="618.80" y="380.00" font-size="13.00" font-style="italic" textLength="11.20" lengthAdjust="spacingAndGlyphs" >m</text>
<text x="630.60" y="382.40" font-size="8.60" font-style="italic" textLength="6.80" lengthAdjust="spacingAndGlyphs" fill="#333">χ</text>
<text x="643.10" y="380.00" font-size="12.60" textLength="32.20" lengthAdjust="spacingAndGlyphs" >(GeV)</text>
<g transform="translate(429.00,214.50) rotate(-90)">
<text x="0.00" y="0.00" font-size="13.00" font-style="italic" textLength="9.60" lengthAdjust="spacingAndGlyphs" >σ</text>
<text x="9.80" y="2.40" font-size="8.60" textLength="7.20" lengthAdjust="spacingAndGlyphs" >N</text>
<text x="20.20" y="0.00" font-size="12.60" textLength="22.40" lengthAdjust="spacingAndGlyphs" >(cm</text>
<text x="43.80" y="-5.80" font-size="8.80" textLength="5.40" lengthAdjust="spacingAndGlyphs" >2</text>
<text x="49.60" y="0.00" font-size="12.60" textLength="6.20" lengthAdjust="spacingAndGlyphs" >)</text>
</g>
<text x="475.80" y="11.60" font-size="13.00" textLength="6.50" lengthAdjust="spacingAndGlyphs" >e</text>
<text transform="translate(483.00,11.60) scale(1,0.8)" font-size="16.9" font-style="italic" textLength="8.40" lengthAdjust="spacingAndGlyphs" fill="#2a2a2a">χ</text>
<path d="M497.40,7.9H509.80M506.40,5.4Q507.60,7.4 509.80,7.9Q507.60,8.4 506.40,10.4" fill="none" stroke="#111" stroke-width="0.85"/>
<text x="515.10" y="11.60" font-size="13.00" textLength="6.20" lengthAdjust="spacingAndGlyphs" >e</text>
<text transform="translate(522.00,11.60) scale(1,0.8)" font-size="16.9" font-style="italic" textLength="8.10" lengthAdjust="spacingAndGlyphs" fill="#2a2a2a">χ</text>
<text x="544.50" y="11.60" font-size="13.00" font-style="italic" textLength="12.00" lengthAdjust="spacingAndGlyphs" >m</text>
<text x="556.90" y="13.90" font-size="9.30" font-style="italic" textLength="9.20" lengthAdjust="spacingAndGlyphs" >V</text>
<text x="573.40" y="11.60" font-size="13.00" textLength="9.40" lengthAdjust="spacingAndGlyphs" >=</text>
<text x="588.60" y="11.60" font-size="13.00" textLength="21.30" lengthAdjust="spacingAndGlyphs" >300</text>
<text x="614.20" y="11.60" font-size="13.00" textLength="29.60" lengthAdjust="spacingAndGlyphs" >MeV</text>
<text x="659.00" y="11.60" font-size="13.00" font-style="italic" textLength="9.40" lengthAdjust="spacingAndGlyphs" >α</text>
<text x="668.80" y="11.10" font-size="12.00" textLength="3.20" lengthAdjust="spacingAndGlyphs" >′</text>
<text x="677.80" y="11.60" font-size="13.00" textLength="9.40" lengthAdjust="spacingAndGlyphs" >=</text>
<text x="693.00" y="11.60" font-size="13.00" textLength="18.20" lengthAdjust="spacingAndGlyphs" >0.1</text>
<text x="726.20" y="11.60" font-size="13.00" textLength="30.80" lengthAdjust="spacingAndGlyphs" >POT</text>
<text x="761.80" y="14.00" font-size="14.00" textLength="12.00" lengthAdjust="spacingAndGlyphs" >~</text>
<text x="778.00" y="11.60" font-size="13.00" textLength="7.20" lengthAdjust="spacingAndGlyphs" >2</text>
<text x="789.60" y="14.20" font-size="16.00" textLength="9.20" lengthAdjust="spacingAndGlyphs" >×</text>
<text x="804.00" y="11.60" font-size="13.00" textLength="13.00" lengthAdjust="spacingAndGlyphs" >10</text>
<text x="818.40" y="6.50" font-size="9.50" textLength="11.60" lengthAdjust="spacingAndGlyphs" >20</text></g>
<path d="M728.30,258.50H761.00" stroke="#8408fa" stroke-width="1.5"  fill="none"/>
<path d="M728.30,270.63H761.00" stroke="#ff0000" stroke-width="1.5"  fill="none"/>
<path d="M728.30,282.76H761.00" stroke="#b00c0c" stroke-width="1.5"  fill="none"/>
<path d="M728.30,294.89H761.00" stroke="#0f8cff" stroke-width="1.5"  fill="none"/>
<path d="M728.30,307.02H761.00" stroke="#000" stroke-width="1.4" stroke-dasharray="3.6,1.7" fill="none"/>
<path d="M728.30,319.15H761.00" stroke="#000" stroke-width="1.5"  fill="none"/>
<path d="M728.3,330.5v1.60M730.2,330.5v1.60M732.1,330.5v1.60M734.0,330.5v1.60M735.9,330.5v1.60M737.8,330.5v1.60M739.7,330.5v1.60M741.6,330.5v1.60M743.5,330.5v1.60M745.4,330.5v1.60M747.3,330.5v1.60M749.2,330.5v1.60M751.1,330.5v1.60M753.0,330.5v1.60M754.9,330.5v1.60M756.8,330.5v1.60M758.7,330.5v1.60M760.6,330.5v1.60" fill="none" stroke="#000" stroke-width="1.20"/>
<g style="filter:grayscale(1)"><text x="629.11" y="262.11" font-size="12.98" textLength="8.65" lengthAdjust="spacingAndGlyphs" >Δ</text>
<text x="639.00" y="262.11" font-size="12.98" font-style="italic" textLength="11.33" lengthAdjust="spacingAndGlyphs" >m</text>
<text x="651.77" y="264.37" font-size="9.48" font-style="italic" textLength="9.06" lengthAdjust="spacingAndGlyphs" >Z</text>
<text x="665.78" y="262.11" font-size="12.98" textLength="55.62" lengthAdjust="spacingAndGlyphs" >and EW fit</text>
<text x="721.40" y="274.24" text-anchor="end" font-size="12.98">Direct Detection</text>
<text x="721.40" y="286.37" text-anchor="end" font-size="12.98">Electron/Muon g-2</text>
<text x="721.40" y="298.50" text-anchor="end" font-size="12.98">Monojet (CDF)</text>
<text x="721.40" y="310.62" text-anchor="end" font-size="12.98">MiniBooNE</text>
<text x="721.40" y="322.75" text-anchor="end" font-size="12.98">Relic density</text>
<text x="721.40" y="334.88" text-anchor="end" font-size="12.98">BaBar Sensitivity</text></g>
</svg>
</body></html>
